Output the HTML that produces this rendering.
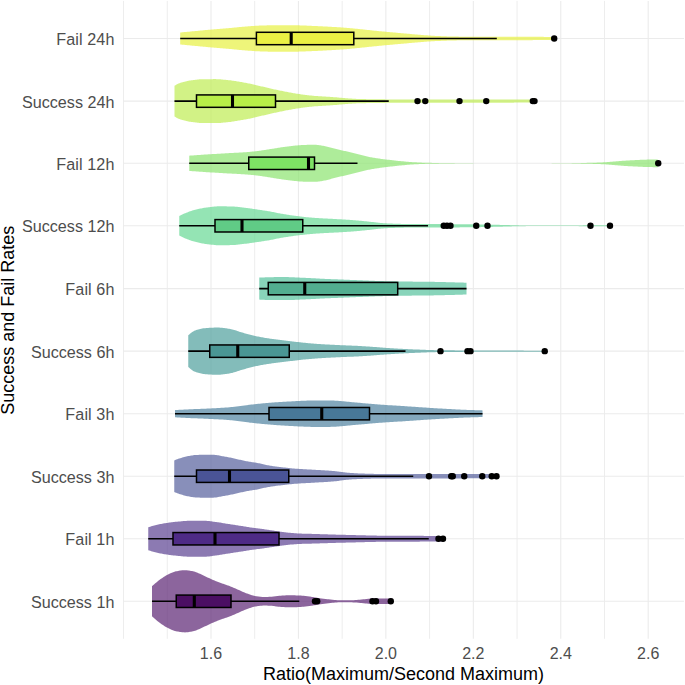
<!DOCTYPE html>
<html><head><meta charset="utf-8"><style>
html,body{margin:0;padding:0;background:#fff;width:685px;height:685px;overflow:hidden}
svg{display:block}
text{font-family:"Liberation Sans",sans-serif}
.gmin{stroke:#EDEDED;stroke-width:1}
.gmaj{stroke:#EBEBEB;stroke-width:1.1}
.wh{stroke:#000;stroke-width:1.6}
.bx{stroke:#000;stroke-width:1.5}
.md{stroke:#000;stroke-width:3.1}
.yl{font-size:16.15px;fill:#4D4D4D;text-anchor:end}
.xl{font-size:16px;fill:#4D4D4D;text-anchor:middle}
.xt{font-size:18px;fill:#000;text-anchor:middle}
.yt{font-size:18px;fill:#000;text-anchor:middle}
</style></head><body>
<svg width="685" height="685" viewBox="0 0 685 685">
<rect width="685" height="685" fill="#fff"/>
<line x1="123.55" y1="0.90" x2="123.55" y2="638.80" class="gmin"/>
<line x1="167.27" y1="0.90" x2="167.27" y2="638.80" class="gmin"/>
<line x1="254.71" y1="0.90" x2="254.71" y2="638.80" class="gmin"/>
<line x1="342.15" y1="0.90" x2="342.15" y2="638.80" class="gmin"/>
<line x1="429.60" y1="0.90" x2="429.60" y2="638.80" class="gmin"/>
<line x1="517.04" y1="0.90" x2="517.04" y2="638.80" class="gmin"/>
<line x1="604.48" y1="0.90" x2="604.48" y2="638.80" class="gmin"/>
<line x1="210.99" y1="0.90" x2="210.99" y2="638.80" class="gmaj"/>
<line x1="298.43" y1="0.90" x2="298.43" y2="638.80" class="gmaj"/>
<line x1="385.87" y1="0.90" x2="385.87" y2="638.80" class="gmaj"/>
<line x1="473.32" y1="0.90" x2="473.32" y2="638.80" class="gmaj"/>
<line x1="560.76" y1="0.90" x2="560.76" y2="638.80" class="gmaj"/>
<line x1="648.20" y1="0.90" x2="648.20" y2="638.80" class="gmaj"/>
<line x1="123.00" y1="38.49" x2="684.00" y2="38.49" class="gmaj"/>
<line x1="123.00" y1="101.12" x2="684.00" y2="101.12" class="gmaj"/>
<line x1="123.00" y1="163.30" x2="684.00" y2="163.30" class="gmaj"/>
<line x1="123.00" y1="225.79" x2="684.00" y2="225.79" class="gmaj"/>
<line x1="123.00" y1="288.62" x2="684.00" y2="288.62" class="gmaj"/>
<line x1="123.00" y1="351.15" x2="684.00" y2="351.15" class="gmaj"/>
<line x1="123.00" y1="413.68" x2="684.00" y2="413.68" class="gmaj"/>
<line x1="123.00" y1="476.21" x2="684.00" y2="476.21" class="gmaj"/>
<line x1="123.00" y1="538.75" x2="684.00" y2="538.75" class="gmaj"/>
<line x1="123.00" y1="601.28" x2="684.00" y2="601.28" class="gmaj"/>
<path d="M180.20,32.49 L181.20,32.40 L182.20,32.30 L183.20,32.21 L184.20,32.11 L185.20,32.02 L186.20,31.92 L187.20,31.83 L188.20,31.73 L189.20,31.64 L190.20,31.54 L191.20,31.45 L192.20,31.35 L193.20,31.26 L194.20,31.17 L195.20,31.07 L196.20,30.98 L197.20,30.88 L198.20,30.79 L199.20,30.69 L200.20,30.60 L201.20,30.50 L202.20,30.41 L203.20,30.31 L204.20,30.22 L205.20,30.12 L206.20,30.03 L207.20,29.94 L208.20,29.84 L209.20,29.75 L210.20,29.66 L211.20,29.57 L212.20,29.48 L213.20,29.40 L214.20,29.31 L215.20,29.23 L216.20,29.14 L217.20,29.06 L218.20,28.98 L219.20,28.90 L220.20,28.81 L221.20,28.73 L222.20,28.65 L223.20,28.57 L224.20,28.49 L225.20,28.40 L226.20,28.32 L227.20,28.23 L228.20,28.15 L229.20,28.06 L230.20,27.97 L231.20,27.88 L232.20,27.79 L233.20,27.69 L234.20,27.59 L235.20,27.49 L236.20,27.39 L237.20,27.29 L238.20,27.20 L239.20,27.10 L240.20,27.00 L241.20,26.91 L242.20,26.82 L243.20,26.73 L244.20,26.65 L245.20,26.57 L246.20,26.50 L247.20,26.42 L248.20,26.34 L249.20,26.27 L250.20,26.19 L251.20,26.12 L252.20,26.04 L253.20,25.97 L254.20,25.90 L255.20,25.84 L256.20,25.77 L257.20,25.72 L258.20,25.66 L259.20,25.61 L260.20,25.57 L261.20,25.53 L262.20,25.50 L263.20,25.47 L264.20,25.44 L265.20,25.42 L266.20,25.39 L267.20,25.37 L268.20,25.35 L269.20,25.32 L270.20,25.30 L271.20,25.28 L272.20,25.26 L273.20,25.25 L274.20,25.23 L275.20,25.22 L276.20,25.21 L277.20,25.20 L278.20,25.19 L279.20,25.19 L280.20,25.19 L281.20,25.19 L282.20,25.19 L283.20,25.20 L284.20,25.20 L285.20,25.20 L286.20,25.21 L287.20,25.22 L288.20,25.22 L289.20,25.23 L290.20,25.24 L291.20,25.25 L292.20,25.26 L293.20,25.27 L294.20,25.28 L295.20,25.29 L296.20,25.31 L297.20,25.32 L298.20,25.35 L299.20,25.37 L300.20,25.40 L301.20,25.43 L302.20,25.47 L303.20,25.50 L304.20,25.54 L305.20,25.58 L306.20,25.62 L307.20,25.67 L308.20,25.71 L309.20,25.75 L310.20,25.79 L311.20,25.84 L312.20,25.88 L313.20,25.92 L314.20,25.96 L315.20,26.00 L316.20,26.05 L317.20,26.10 L318.20,26.14 L319.20,26.19 L320.20,26.24 L321.20,26.29 L322.20,26.34 L323.20,26.40 L324.20,26.45 L325.20,26.50 L326.20,26.55 L327.20,26.61 L328.20,26.66 L329.20,26.71 L330.20,26.77 L331.20,26.82 L332.20,26.88 L333.20,26.94 L334.20,27.00 L335.20,27.05 L336.20,27.12 L337.20,27.18 L338.20,27.24 L339.20,27.31 L340.20,27.37 L341.20,27.44 L342.20,27.51 L343.20,27.58 L344.20,27.66 L345.20,27.74 L346.20,27.82 L347.20,27.91 L348.20,28.00 L349.20,28.09 L350.20,28.18 L351.20,28.27 L352.20,28.37 L353.20,28.47 L354.20,28.57 L355.20,28.66 L356.20,28.76 L357.20,28.86 L358.20,28.96 L359.20,29.06 L360.20,29.16 L361.20,29.26 L362.20,29.36 L363.20,29.46 L364.20,29.57 L365.20,29.68 L366.20,29.78 L367.20,29.89 L368.20,30.00 L369.20,30.11 L370.20,30.22 L371.20,30.33 L372.20,30.43 L373.20,30.54 L374.20,30.64 L375.20,30.75 L376.20,30.85 L377.20,30.95 L378.20,31.05 L379.20,31.15 L380.20,31.24 L381.20,31.34 L382.20,31.43 L383.20,31.52 L384.20,31.61 L385.20,31.71 L386.20,31.80 L387.20,31.89 L388.20,31.98 L389.20,32.07 L390.20,32.16 L391.20,32.25 L392.20,32.34 L393.20,32.43 L394.20,32.52 L395.20,32.61 L396.20,32.70 L397.20,32.79 L398.20,32.88 L399.20,32.97 L400.20,33.06 L401.20,33.15 L402.20,33.24 L403.20,33.33 L404.20,33.42 L405.20,33.51 L406.20,33.60 L407.20,33.69 L408.20,33.78 L409.20,33.87 L410.20,33.96 L411.20,34.06 L412.20,34.15 L413.20,34.23 L414.20,34.32 L415.20,34.41 L416.20,34.49 L417.20,34.57 L418.20,34.66 L419.20,34.74 L420.20,34.82 L421.20,34.90 L422.20,34.97 L423.20,35.05 L424.20,35.13 L425.20,35.21 L426.20,35.28 L427.20,35.36 L428.20,35.44 L429.20,35.51 L430.20,35.59 L431.20,35.65 L432.20,35.72 L433.20,35.77 L434.20,35.83 L435.20,35.88 L436.20,35.93 L437.20,35.97 L438.20,36.02 L439.20,36.06 L440.20,36.10 L441.20,36.14 L442.20,36.18 L443.20,36.22 L444.20,36.26 L445.20,36.30 L446.20,36.34 L447.20,36.38 L448.20,36.42 L449.20,36.45 L450.20,36.49 L451.20,36.52 L452.20,36.54 L453.20,36.56 L454.20,36.58 L455.20,36.59 L456.20,36.60 L457.20,36.61 L458.20,36.62 L459.20,36.63 L460.20,36.64 L461.20,36.65 L462.20,36.65 L463.20,36.66 L464.20,36.67 L465.20,36.67 L466.20,36.68 L467.20,36.69 L468.20,36.69 L469.20,36.70 L470.20,36.70 L471.20,36.71 L472.20,36.71 L473.20,36.71 L474.20,36.72 L475.20,36.72 L476.20,36.73 L477.20,36.73 L478.20,36.73 L479.20,36.74 L480.20,36.74 L481.20,36.74 L482.20,36.75 L483.20,36.75 L484.20,36.75 L485.20,36.76 L486.20,36.76 L487.20,36.76 L488.20,36.76 L489.20,36.77 L490.20,36.77 L491.20,36.77 L492.20,36.77 L493.20,36.78 L494.20,36.78 L495.20,36.78 L496.20,36.78 L497.20,36.78 L498.20,36.79 L499.20,36.79 L500.20,36.79 L501.20,36.79 L502.20,36.79 L503.20,36.80 L504.20,36.80 L505.20,36.80 L506.20,36.80 L507.20,36.81 L508.20,36.81 L509.20,36.81 L510.20,36.81 L511.20,36.81 L512.20,36.82 L513.20,36.82 L514.20,36.82 L515.20,36.82 L516.20,36.82 L517.20,36.83 L518.20,36.83 L519.20,36.83 L520.20,36.83 L521.20,36.83 L522.20,36.84 L523.20,36.84 L524.20,36.84 L525.20,36.84 L526.20,36.84 L527.20,36.85 L528.20,36.85 L529.20,36.85 L530.20,36.85 L531.20,36.85 L532.20,36.85 L533.20,36.86 L534.20,36.86 L535.20,36.86 L536.20,36.86 L537.20,36.86 L538.20,36.87 L539.20,36.87 L540.20,36.87 L541.20,36.87 L542.20,36.87 L543.20,36.87 L544.20,36.88 L545.20,36.88 L546.20,36.88 L547.20,36.88 L548.20,36.88 L549.20,36.88 L550.20,36.88 L551.20,36.89 L552.20,36.89 L553.20,36.89 L554.20,36.89 L554.20,36.89 L554.20,40.09 L554.20,40.09 L553.20,40.09 L552.20,40.09 L551.20,40.09 L550.20,40.10 L549.20,40.10 L548.20,40.10 L547.20,40.10 L546.20,40.10 L545.20,40.10 L544.20,40.10 L543.20,40.11 L542.20,40.11 L541.20,40.11 L540.20,40.11 L539.20,40.11 L538.20,40.11 L537.20,40.12 L536.20,40.12 L535.20,40.12 L534.20,40.12 L533.20,40.12 L532.20,40.13 L531.20,40.13 L530.20,40.13 L529.20,40.13 L528.20,40.13 L527.20,40.13 L526.20,40.14 L525.20,40.14 L524.20,40.14 L523.20,40.14 L522.20,40.14 L521.20,40.15 L520.20,40.15 L519.20,40.15 L518.20,40.15 L517.20,40.15 L516.20,40.16 L515.20,40.16 L514.20,40.16 L513.20,40.16 L512.20,40.16 L511.20,40.17 L510.20,40.17 L509.20,40.17 L508.20,40.17 L507.20,40.17 L506.20,40.18 L505.20,40.18 L504.20,40.18 L503.20,40.18 L502.20,40.19 L501.20,40.19 L500.20,40.19 L499.20,40.19 L498.20,40.19 L497.20,40.20 L496.20,40.20 L495.20,40.20 L494.20,40.20 L493.20,40.20 L492.20,40.21 L491.20,40.21 L490.20,40.21 L489.20,40.21 L488.20,40.22 L487.20,40.22 L486.20,40.22 L485.20,40.22 L484.20,40.23 L483.20,40.23 L482.20,40.23 L481.20,40.24 L480.20,40.24 L479.20,40.24 L478.20,40.25 L477.20,40.25 L476.20,40.25 L475.20,40.26 L474.20,40.26 L473.20,40.27 L472.20,40.27 L471.20,40.27 L470.20,40.28 L469.20,40.28 L468.20,40.29 L467.20,40.29 L466.20,40.30 L465.20,40.31 L464.20,40.31 L463.20,40.32 L462.20,40.33 L461.20,40.33 L460.20,40.34 L459.20,40.35 L458.20,40.36 L457.20,40.37 L456.20,40.38 L455.20,40.39 L454.20,40.40 L453.20,40.42 L452.20,40.44 L451.20,40.46 L450.20,40.49 L449.20,40.53 L448.20,40.56 L447.20,40.60 L446.20,40.64 L445.20,40.68 L444.20,40.72 L443.20,40.76 L442.20,40.80 L441.20,40.84 L440.20,40.88 L439.20,40.92 L438.20,40.96 L437.20,41.01 L436.20,41.05 L435.20,41.10 L434.20,41.15 L433.20,41.21 L432.20,41.26 L431.20,41.33 L430.20,41.39 L429.20,41.47 L428.20,41.54 L427.20,41.62 L426.20,41.70 L425.20,41.77 L424.20,41.85 L423.20,41.93 L422.20,42.01 L421.20,42.08 L420.20,42.16 L419.20,42.24 L418.20,42.32 L417.20,42.41 L416.20,42.49 L415.20,42.57 L414.20,42.66 L413.20,42.75 L412.20,42.83 L411.20,42.92 L410.20,43.02 L409.20,43.11 L408.20,43.20 L407.20,43.29 L406.20,43.38 L405.20,43.47 L404.20,43.56 L403.20,43.65 L402.20,43.74 L401.20,43.83 L400.20,43.92 L399.20,44.01 L398.20,44.10 L397.20,44.19 L396.20,44.28 L395.20,44.37 L394.20,44.46 L393.20,44.55 L392.20,44.64 L391.20,44.73 L390.20,44.82 L389.20,44.91 L388.20,45.00 L387.20,45.09 L386.20,45.18 L385.20,45.27 L384.20,45.37 L383.20,45.46 L382.20,45.55 L381.20,45.64 L380.20,45.74 L379.20,45.83 L378.20,45.93 L377.20,46.03 L376.20,46.13 L375.20,46.23 L374.20,46.34 L373.20,46.44 L372.20,46.55 L371.20,46.65 L370.20,46.76 L369.20,46.87 L368.20,46.98 L367.20,47.09 L366.20,47.20 L365.20,47.30 L364.20,47.41 L363.20,47.52 L362.20,47.62 L361.20,47.72 L360.20,47.82 L359.20,47.92 L358.20,48.02 L357.20,48.12 L356.20,48.22 L355.20,48.32 L354.20,48.41 L353.20,48.51 L352.20,48.61 L351.20,48.71 L350.20,48.80 L349.20,48.89 L348.20,48.98 L347.20,49.07 L346.20,49.16 L345.20,49.24 L344.20,49.32 L343.20,49.40 L342.20,49.47 L341.20,49.54 L340.20,49.61 L339.20,49.67 L338.20,49.74 L337.20,49.80 L336.20,49.86 L335.20,49.93 L334.20,49.98 L333.20,50.04 L332.20,50.10 L331.20,50.16 L330.20,50.21 L329.20,50.27 L328.20,50.32 L327.20,50.37 L326.20,50.43 L325.20,50.48 L324.20,50.53 L323.20,50.58 L322.20,50.64 L321.20,50.69 L320.20,50.74 L319.20,50.79 L318.20,50.84 L317.20,50.88 L316.20,50.93 L315.20,50.98 L314.20,51.02 L313.20,51.06 L312.20,51.10 L311.20,51.14 L310.20,51.19 L309.20,51.23 L308.20,51.27 L307.20,51.31 L306.20,51.36 L305.20,51.40 L304.20,51.44 L303.20,51.48 L302.20,51.51 L301.20,51.55 L300.20,51.58 L299.20,51.61 L298.20,51.63 L297.20,51.66 L296.20,51.67 L295.20,51.69 L294.20,51.70 L293.20,51.71 L292.20,51.72 L291.20,51.73 L290.20,51.74 L289.20,51.75 L288.20,51.76 L287.20,51.76 L286.20,51.77 L285.20,51.78 L284.20,51.78 L283.20,51.78 L282.20,51.79 L281.20,51.79 L280.20,51.79 L279.20,51.79 L278.20,51.79 L277.20,51.78 L276.20,51.77 L275.20,51.76 L274.20,51.75 L273.20,51.73 L272.20,51.72 L271.20,51.70 L270.20,51.68 L269.20,51.66 L268.20,51.63 L267.20,51.61 L266.20,51.59 L265.20,51.56 L264.20,51.54 L263.20,51.51 L262.20,51.48 L261.20,51.45 L260.20,51.41 L259.20,51.37 L258.20,51.32 L257.20,51.26 L256.20,51.21 L255.20,51.14 L254.20,51.08 L253.20,51.01 L252.20,50.94 L251.20,50.86 L250.20,50.79 L249.20,50.71 L248.20,50.64 L247.20,50.56 L246.20,50.48 L245.20,50.41 L244.20,50.33 L243.20,50.25 L242.20,50.16 L241.20,50.07 L240.20,49.98 L239.20,49.88 L238.20,49.78 L237.20,49.69 L236.20,49.59 L235.20,49.49 L234.20,49.39 L233.20,49.29 L232.20,49.19 L231.20,49.10 L230.20,49.01 L229.20,48.92 L228.20,48.83 L227.20,48.75 L226.20,48.66 L225.20,48.58 L224.20,48.49 L223.20,48.41 L222.20,48.33 L221.20,48.25 L220.20,48.17 L219.20,48.08 L218.20,48.00 L217.20,47.92 L216.20,47.84 L215.20,47.75 L214.20,47.67 L213.20,47.58 L212.20,47.50 L211.20,47.41 L210.20,47.32 L209.20,47.23 L208.20,47.14 L207.20,47.04 L206.20,46.95 L205.20,46.86 L204.20,46.76 L203.20,46.67 L202.20,46.57 L201.20,46.48 L200.20,46.38 L199.20,46.29 L198.20,46.19 L197.20,46.10 L196.20,46.00 L195.20,45.91 L194.20,45.81 L193.20,45.72 L192.20,45.63 L191.20,45.53 L190.20,45.44 L189.20,45.34 L188.20,45.25 L187.20,45.15 L186.20,45.06 L185.20,44.96 L184.20,44.87 L183.20,44.77 L182.20,44.68 L181.20,44.58 L180.20,44.49 Z" fill="#E7F141" fill-opacity="0.70"/>
<path d="M174.50,85.72 L175.50,85.15 L176.50,84.60 L177.50,84.09 L178.50,83.61 L179.50,83.20 L180.50,82.85 L181.50,82.53 L182.50,82.22 L183.50,81.93 L184.50,81.66 L185.50,81.41 L186.50,81.17 L187.50,80.96 L188.50,80.77 L189.50,80.60 L190.50,80.45 L191.50,80.30 L192.50,80.15 L193.50,80.01 L194.50,79.88 L195.50,79.75 L196.50,79.63 L197.50,79.53 L198.50,79.43 L199.50,79.35 L200.50,79.29 L201.50,79.25 L202.50,79.22 L203.50,79.21 L204.50,79.19 L205.50,79.18 L206.50,79.17 L207.50,79.16 L208.50,79.15 L209.50,79.14 L210.50,79.14 L211.50,79.13 L212.50,79.13 L213.50,79.12 L214.50,79.12 L215.50,79.12 L216.50,79.14 L217.50,79.18 L218.50,79.23 L219.50,79.29 L220.50,79.36 L221.50,79.44 L222.50,79.53 L223.50,79.63 L224.50,79.72 L225.50,79.82 L226.50,79.92 L227.50,80.02 L228.50,80.13 L229.50,80.24 L230.50,80.37 L231.50,80.50 L232.50,80.65 L233.50,80.80 L234.50,80.96 L235.50,81.12 L236.50,81.29 L237.50,81.45 L238.50,81.62 L239.50,81.79 L240.50,81.96 L241.50,82.12 L242.50,82.30 L243.50,82.47 L244.50,82.65 L245.50,82.84 L246.50,83.02 L247.50,83.21 L248.50,83.41 L249.50,83.61 L250.50,83.81 L251.50,84.01 L252.50,84.22 L253.50,84.44 L254.50,84.66 L255.50,84.90 L256.50,85.14 L257.50,85.38 L258.50,85.63 L259.50,85.88 L260.50,86.13 L261.50,86.38 L262.50,86.62 L263.50,86.87 L264.50,87.11 L265.50,87.34 L266.50,87.57 L267.50,87.80 L268.50,88.03 L269.50,88.26 L270.50,88.48 L271.50,88.71 L272.50,88.93 L273.50,89.16 L274.50,89.38 L275.50,89.59 L276.50,89.81 L277.50,90.02 L278.50,90.23 L279.50,90.44 L280.50,90.65 L281.50,90.86 L282.50,91.07 L283.50,91.27 L284.50,91.48 L285.50,91.67 L286.50,91.87 L287.50,92.06 L288.50,92.25 L289.50,92.43 L290.50,92.61 L291.50,92.79 L292.50,92.96 L293.50,93.13 L294.50,93.30 L295.50,93.47 L296.50,93.63 L297.50,93.79 L298.50,93.95 L299.50,94.10 L300.50,94.25 L301.50,94.39 L302.50,94.52 L303.50,94.65 L304.50,94.78 L305.50,94.91 L306.50,95.03 L307.50,95.15 L308.50,95.27 L309.50,95.39 L310.50,95.49 L311.50,95.60 L312.50,95.70 L313.50,95.79 L314.50,95.88 L315.50,95.96 L316.50,96.04 L317.50,96.11 L318.50,96.18 L319.50,96.24 L320.50,96.30 L321.50,96.36 L322.50,96.42 L323.50,96.48 L324.50,96.53 L325.50,96.59 L326.50,96.66 L327.50,96.72 L328.50,96.79 L329.50,96.86 L330.50,96.92 L331.50,96.99 L332.50,97.06 L333.50,97.13 L334.50,97.21 L335.50,97.28 L336.50,97.36 L337.50,97.45 L338.50,97.54 L339.50,97.63 L340.50,97.73 L341.50,97.82 L342.50,97.91 L343.50,98.00 L344.50,98.08 L345.50,98.16 L346.50,98.24 L347.50,98.31 L348.50,98.39 L349.50,98.46 L350.50,98.54 L351.50,98.61 L352.50,98.67 L353.50,98.74 L354.50,98.79 L355.50,98.84 L356.50,98.88 L357.50,98.92 L358.50,98.95 L359.50,98.98 L360.50,99.00 L361.50,99.03 L362.50,99.05 L363.50,99.07 L364.50,99.09 L365.50,99.11 L366.50,99.13 L367.50,99.15 L368.50,99.17 L369.50,99.19 L370.50,99.20 L371.50,99.22 L372.50,99.23 L373.50,99.25 L374.50,99.26 L375.50,99.27 L376.50,99.28 L377.50,99.29 L378.50,99.31 L379.50,99.32 L380.50,99.33 L381.50,99.34 L382.50,99.35 L383.50,99.36 L384.50,99.37 L385.50,99.38 L386.50,99.39 L387.50,99.40 L388.50,99.40 L389.50,99.41 L390.50,99.42 L391.50,99.43 L392.50,99.44 L393.50,99.44 L394.50,99.45 L395.50,99.45 L396.50,99.46 L397.50,99.46 L398.50,99.47 L399.50,99.47 L400.50,99.47 L401.50,99.48 L402.50,99.48 L403.50,99.48 L404.50,99.48 L405.50,99.48 L406.50,99.49 L407.50,99.49 L408.50,99.49 L409.50,99.49 L410.50,99.50 L411.50,99.50 L412.50,99.50 L413.50,99.50 L414.50,99.50 L415.50,99.51 L416.50,99.51 L417.50,99.51 L418.50,99.51 L419.50,99.51 L420.50,99.52 L421.50,99.52 L422.50,99.52 L423.50,99.52 L424.50,99.52 L425.50,99.53 L426.50,99.53 L427.50,99.53 L428.50,99.53 L429.50,99.53 L430.50,99.54 L431.50,99.54 L432.50,99.54 L433.50,99.54 L434.50,99.54 L435.50,99.54 L436.50,99.55 L437.50,99.55 L438.50,99.55 L439.50,99.55 L440.50,99.55 L441.50,99.55 L442.50,99.56 L443.50,99.56 L444.50,99.56 L445.50,99.56 L446.50,99.56 L447.50,99.56 L448.50,99.56 L449.50,99.57 L450.50,99.57 L451.50,99.57 L452.50,99.57 L453.50,99.57 L454.50,99.57 L455.50,99.57 L456.50,99.57 L457.50,99.58 L458.50,99.58 L459.50,99.58 L460.50,99.58 L461.50,99.58 L462.50,99.58 L463.50,99.58 L464.50,99.58 L465.50,99.59 L466.50,99.59 L467.50,99.59 L468.50,99.59 L469.50,99.59 L470.50,99.59 L471.50,99.59 L472.50,99.59 L473.50,99.59 L474.50,99.59 L475.50,99.60 L476.50,99.60 L477.50,99.60 L478.50,99.60 L479.50,99.60 L480.50,99.60 L481.50,99.60 L482.50,99.60 L483.50,99.60 L484.50,99.60 L485.50,99.60 L486.50,99.60 L487.50,99.61 L488.50,99.61 L489.50,99.61 L490.50,99.61 L491.50,99.61 L492.50,99.61 L493.50,99.61 L494.50,99.61 L495.50,99.61 L496.50,99.61 L497.50,99.61 L498.50,99.61 L499.50,99.61 L500.50,99.61 L501.50,99.61 L502.50,99.61 L503.50,99.62 L504.50,99.62 L505.50,99.62 L506.50,99.62 L507.50,99.62 L508.50,99.62 L509.50,99.62 L510.50,99.62 L511.50,99.62 L512.50,99.62 L513.50,99.62 L514.50,99.62 L515.50,99.62 L516.50,99.62 L517.50,99.62 L518.50,99.62 L519.50,99.62 L520.50,99.62 L521.50,99.62 L522.50,99.62 L523.50,99.62 L524.50,99.62 L525.50,99.62 L526.50,99.62 L527.50,99.62 L528.50,99.62 L529.50,99.62 L530.50,99.62 L531.50,99.62 L532.50,99.62 L533.50,99.62 L533.50,102.62 L532.50,102.62 L531.50,102.62 L530.50,102.62 L529.50,102.62 L528.50,102.62 L527.50,102.62 L526.50,102.62 L525.50,102.62 L524.50,102.62 L523.50,102.62 L522.50,102.62 L521.50,102.62 L520.50,102.62 L519.50,102.62 L518.50,102.62 L517.50,102.62 L516.50,102.62 L515.50,102.62 L514.50,102.62 L513.50,102.63 L512.50,102.63 L511.50,102.63 L510.50,102.63 L509.50,102.63 L508.50,102.63 L507.50,102.63 L506.50,102.63 L505.50,102.63 L504.50,102.63 L503.50,102.63 L502.50,102.63 L501.50,102.63 L500.50,102.63 L499.50,102.63 L498.50,102.63 L497.50,102.63 L496.50,102.63 L495.50,102.63 L494.50,102.63 L493.50,102.63 L492.50,102.63 L491.50,102.64 L490.50,102.64 L489.50,102.64 L488.50,102.64 L487.50,102.64 L486.50,102.64 L485.50,102.64 L484.50,102.64 L483.50,102.64 L482.50,102.64 L481.50,102.64 L480.50,102.64 L479.50,102.64 L478.50,102.65 L477.50,102.65 L476.50,102.65 L475.50,102.65 L474.50,102.65 L473.50,102.65 L472.50,102.65 L471.50,102.65 L470.50,102.65 L469.50,102.65 L468.50,102.66 L467.50,102.66 L466.50,102.66 L465.50,102.66 L464.50,102.66 L463.50,102.66 L462.50,102.66 L461.50,102.66 L460.50,102.66 L459.50,102.67 L458.50,102.67 L457.50,102.67 L456.50,102.67 L455.50,102.67 L454.50,102.67 L453.50,102.67 L452.50,102.67 L451.50,102.68 L450.50,102.68 L449.50,102.68 L448.50,102.68 L447.50,102.68 L446.50,102.68 L445.50,102.68 L444.50,102.69 L443.50,102.69 L442.50,102.69 L441.50,102.69 L440.50,102.69 L439.50,102.69 L438.50,102.70 L437.50,102.70 L436.50,102.70 L435.50,102.70 L434.50,102.70 L433.50,102.70 L432.50,102.71 L431.50,102.71 L430.50,102.71 L429.50,102.71 L428.50,102.71 L427.50,102.71 L426.50,102.72 L425.50,102.72 L424.50,102.72 L423.50,102.72 L422.50,102.72 L421.50,102.73 L420.50,102.73 L419.50,102.73 L418.50,102.73 L417.50,102.73 L416.50,102.74 L415.50,102.74 L414.50,102.74 L413.50,102.74 L412.50,102.74 L411.50,102.75 L410.50,102.75 L409.50,102.75 L408.50,102.75 L407.50,102.75 L406.50,102.76 L405.50,102.76 L404.50,102.76 L403.50,102.76 L402.50,102.77 L401.50,102.77 L400.50,102.77 L399.50,102.77 L398.50,102.78 L397.50,102.78 L396.50,102.78 L395.50,102.79 L394.50,102.80 L393.50,102.80 L392.50,102.81 L391.50,102.82 L390.50,102.82 L389.50,102.83 L388.50,102.84 L387.50,102.85 L386.50,102.86 L385.50,102.87 L384.50,102.88 L383.50,102.89 L382.50,102.90 L381.50,102.91 L380.50,102.92 L379.50,102.93 L378.50,102.94 L377.50,102.95 L376.50,102.96 L375.50,102.97 L374.50,102.99 L373.50,103.00 L372.50,103.01 L371.50,103.03 L370.50,103.04 L369.50,103.06 L368.50,103.07 L367.50,103.09 L366.50,103.11 L365.50,103.13 L364.50,103.15 L363.50,103.17 L362.50,103.19 L361.50,103.22 L360.50,103.24 L359.50,103.27 L358.50,103.30 L357.50,103.32 L356.50,103.36 L355.50,103.40 L354.50,103.45 L353.50,103.51 L352.50,103.57 L351.50,103.64 L350.50,103.71 L349.50,103.78 L348.50,103.86 L347.50,103.93 L346.50,104.01 L345.50,104.08 L344.50,104.16 L343.50,104.24 L342.50,104.33 L341.50,104.42 L340.50,104.52 L339.50,104.61 L338.50,104.71 L337.50,104.80 L336.50,104.88 L335.50,104.96 L334.50,105.04 L333.50,105.11 L332.50,105.18 L331.50,105.25 L330.50,105.32 L329.50,105.39 L328.50,105.45 L327.50,105.52 L326.50,105.59 L325.50,105.65 L324.50,105.71 L323.50,105.77 L322.50,105.83 L321.50,105.89 L320.50,105.94 L319.50,106.01 L318.50,106.07 L317.50,106.14 L316.50,106.21 L315.50,106.28 L314.50,106.36 L313.50,106.45 L312.50,106.55 L311.50,106.64 L310.50,106.75 L309.50,106.86 L308.50,106.97 L307.50,107.09 L306.50,107.21 L305.50,107.34 L304.50,107.46 L303.50,107.59 L302.50,107.72 L301.50,107.86 L300.50,108.00 L299.50,108.14 L298.50,108.29 L297.50,108.45 L296.50,108.61 L295.50,108.77 L294.50,108.94 L293.50,109.11 L292.50,109.28 L291.50,109.46 L290.50,109.63 L289.50,109.81 L288.50,109.99 L287.50,110.18 L286.50,110.37 L285.50,110.57 L284.50,110.77 L283.50,110.97 L282.50,111.17 L281.50,111.38 L280.50,111.59 L279.50,111.80 L278.50,112.01 L277.50,112.22 L276.50,112.43 L275.50,112.65 L274.50,112.87 L273.50,113.09 L272.50,113.31 L271.50,113.53 L270.50,113.76 L269.50,113.99 L268.50,114.22 L267.50,114.44 L266.50,114.68 L265.50,114.91 L264.50,115.14 L263.50,115.38 L262.50,115.62 L261.50,115.87 L260.50,116.12 L259.50,116.37 L258.50,116.62 L257.50,116.86 L256.50,117.11 L255.50,117.35 L254.50,117.58 L253.50,117.81 L252.50,118.02 L251.50,118.23 L250.50,118.44 L249.50,118.64 L248.50,118.84 L247.50,119.03 L246.50,119.22 L245.50,119.41 L244.50,119.59 L243.50,119.77 L242.50,119.95 L241.50,120.12 L240.50,120.29 L239.50,120.46 L238.50,120.62 L237.50,120.79 L236.50,120.96 L235.50,121.12 L234.50,121.29 L233.50,121.44 L232.50,121.60 L231.50,121.74 L230.50,121.88 L229.50,122.00 L228.50,122.12 L227.50,122.22 L226.50,122.32 L225.50,122.42 L224.50,122.52 L223.50,122.62 L222.50,122.71 L221.50,122.80 L220.50,122.88 L219.50,122.96 L218.50,123.02 L217.50,123.07 L216.50,123.10 L215.50,123.12 L214.50,123.12 L213.50,123.12 L212.50,123.12 L211.50,123.11 L210.50,123.11 L209.50,123.10 L208.50,123.09 L207.50,123.08 L206.50,123.07 L205.50,123.06 L204.50,123.05 L203.50,123.04 L202.50,123.02 L201.50,123.00 L200.50,122.95 L199.50,122.89 L198.50,122.81 L197.50,122.72 L196.50,122.61 L195.50,122.49 L194.50,122.37 L193.50,122.23 L192.50,122.09 L191.50,121.94 L190.50,121.80 L189.50,121.64 L188.50,121.47 L187.50,121.28 L186.50,121.07 L185.50,120.84 L184.50,120.58 L183.50,120.31 L182.50,120.02 L181.50,119.72 L180.50,119.39 L179.50,119.04 L178.50,118.63 L177.50,118.16 L176.50,117.64 L175.50,117.09 L174.50,116.52 Z" fill="#BFEC52" fill-opacity="0.70"/>
<path d="M189.25,155.70 L190.25,155.62 L191.25,155.55 L192.25,155.47 L193.25,155.39 L194.25,155.31 L195.25,155.24 L196.25,155.16 L197.25,155.09 L198.25,155.02 L199.25,154.95 L200.25,154.88 L201.25,154.81 L202.25,154.74 L203.25,154.67 L204.25,154.60 L205.25,154.54 L206.25,154.47 L207.25,154.41 L208.25,154.35 L209.25,154.29 L210.25,154.23 L211.25,154.17 L212.25,154.11 L213.25,154.05 L214.25,154.00 L215.25,153.94 L216.25,153.88 L217.25,153.82 L218.25,153.76 L219.25,153.70 L220.25,153.64 L221.25,153.58 L222.25,153.51 L223.25,153.45 L224.25,153.39 L225.25,153.33 L226.25,153.27 L227.25,153.21 L228.25,153.15 L229.25,153.10 L230.25,153.04 L231.25,152.99 L232.25,152.94 L233.25,152.89 L234.25,152.84 L235.25,152.79 L236.25,152.74 L237.25,152.70 L238.25,152.65 L239.25,152.59 L240.25,152.54 L241.25,152.48 L242.25,152.42 L243.25,152.35 L244.25,152.28 L245.25,152.21 L246.25,152.13 L247.25,152.05 L248.25,151.96 L249.25,151.88 L250.25,151.78 L251.25,151.69 L252.25,151.59 L253.25,151.49 L254.25,151.38 L255.25,151.28 L256.25,151.16 L257.25,151.04 L258.25,150.91 L259.25,150.78 L260.25,150.64 L261.25,150.49 L262.25,150.35 L263.25,150.20 L264.25,150.05 L265.25,149.89 L266.25,149.74 L267.25,149.59 L268.25,149.44 L269.25,149.28 L270.25,149.12 L271.25,148.96 L272.25,148.80 L273.25,148.63 L274.25,148.46 L275.25,148.30 L276.25,148.13 L277.25,147.97 L278.25,147.82 L279.25,147.66 L280.25,147.52 L281.25,147.37 L282.25,147.23 L283.25,147.08 L284.25,146.94 L285.25,146.80 L286.25,146.66 L287.25,146.52 L288.25,146.39 L289.25,146.27 L290.25,146.15 L291.25,146.03 L292.25,145.93 L293.25,145.83 L294.25,145.73 L295.25,145.62 L296.25,145.52 L297.25,145.42 L298.25,145.32 L299.25,145.23 L300.25,145.15 L301.25,145.07 L302.25,145.01 L303.25,144.96 L304.25,144.92 L305.25,144.90 L306.25,144.88 L307.25,144.87 L308.25,144.85 L309.25,144.84 L310.25,144.83 L311.25,144.82 L312.25,144.81 L313.25,144.81 L314.25,144.80 L315.25,144.81 L316.25,144.84 L317.25,144.91 L318.25,145.02 L319.25,145.15 L320.25,145.31 L321.25,145.48 L322.25,145.66 L323.25,145.84 L324.25,146.01 L325.25,146.21 L326.25,146.43 L327.25,146.68 L328.25,146.94 L329.25,147.21 L330.25,147.47 L331.25,147.75 L332.25,148.03 L333.25,148.33 L334.25,148.61 L335.25,148.87 L336.25,149.11 L337.25,149.35 L338.25,149.58 L339.25,149.81 L340.25,150.03 L341.25,150.24 L342.25,150.46 L343.25,150.68 L344.25,150.90 L345.25,151.12 L346.25,151.35 L347.25,151.58 L348.25,151.82 L349.25,152.06 L350.25,152.30 L351.25,152.55 L352.25,152.79 L353.25,153.04 L354.25,153.29 L355.25,153.53 L356.25,153.78 L357.25,154.02 L358.25,154.27 L359.25,154.51 L360.25,154.76 L361.25,155.02 L362.25,155.28 L363.25,155.54 L364.25,155.79 L365.25,156.04 L366.25,156.29 L367.25,156.52 L368.25,156.74 L369.25,156.96 L370.25,157.15 L371.25,157.34 L372.25,157.51 L373.25,157.68 L374.25,157.85 L375.25,158.01 L376.25,158.16 L377.25,158.31 L378.25,158.46 L379.25,158.60 L380.25,158.74 L381.25,158.88 L382.25,159.01 L383.25,159.14 L384.25,159.27 L385.25,159.39 L386.25,159.51 L387.25,159.63 L388.25,159.75 L389.25,159.87 L390.25,159.98 L391.25,160.10 L392.25,160.21 L393.25,160.33 L394.25,160.44 L395.25,160.56 L396.25,160.67 L397.25,160.78 L398.25,160.88 L399.25,160.99 L400.25,161.09 L401.25,161.19 L402.25,161.28 L403.25,161.37 L404.25,161.47 L405.25,161.56 L406.25,161.65 L407.25,161.74 L408.25,161.82 L409.25,161.91 L410.25,161.99 L411.25,162.06 L412.25,162.13 L413.25,162.20 L414.25,162.26 L415.25,162.32 L416.25,162.37 L417.25,162.42 L418.25,162.47 L419.25,162.52 L420.25,162.56 L421.25,162.61 L422.25,162.65 L423.25,162.68 L424.25,162.72 L425.25,162.75 L426.25,162.78 L427.25,162.80 L428.25,162.82 L429.25,162.84 L430.25,162.86 L431.25,162.87 L432.25,162.89 L433.25,162.91 L434.25,162.92 L435.25,162.94 L436.25,162.95 L437.25,162.96 L438.25,162.98 L439.25,162.99 L440.25,163.00 L441.25,163.01 L442.25,163.02 L443.25,163.03 L444.25,163.04 L445.25,163.05 L446.25,163.06 L447.25,163.07 L448.25,163.08 L449.25,163.08 L450.25,163.09 L451.25,163.10 L452.25,163.11 L453.25,163.11 L454.25,163.12 L455.25,163.13 L456.25,163.13 L457.25,163.14 L458.25,163.14 L459.25,163.15 L460.25,163.16 L461.25,163.16 L462.25,163.17 L463.25,163.18 L464.25,163.18 L465.25,163.19 L466.25,163.19 L467.25,163.20 L468.25,163.20 L469.25,163.21 L470.25,163.21 L471.25,163.22 L472.25,163.23 L473.25,163.23 L474.25,163.24 L475.25,163.24 L476.25,163.24 L477.25,163.25 L478.25,163.25 L479.25,163.26 L480.25,163.26 L481.25,163.27 L482.25,163.27 L483.25,163.27 L484.25,163.28 L485.25,163.28 L486.25,163.28 L487.25,163.29 L488.25,163.29 L489.25,163.29 L490.25,163.29 L491.25,163.30 L492.25,163.30 L493.25,163.30 L494.25,163.30 L495.25,163.30 L496.25,163.30 L497.25,163.30 L498.25,163.30 L499.25,163.30 L500.25,163.30 L501.25,163.30 L502.25,163.30 L503.25,163.30 L504.25,163.30 L505.25,163.30 L506.25,163.30 L507.25,163.30 L508.25,163.30 L509.25,163.30 L510.25,163.30 L511.25,163.30 L512.25,163.30 L513.25,163.30 L514.25,163.30 L515.25,163.30 L516.25,163.30 L517.25,163.30 L518.25,163.29 L519.25,163.29 L520.25,163.29 L521.25,163.29 L522.25,163.29 L523.25,163.29 L524.25,163.29 L525.25,163.29 L526.25,163.29 L527.25,163.28 L528.25,163.28 L529.25,163.28 L530.25,163.28 L531.25,163.28 L532.25,163.28 L533.25,163.27 L534.25,163.27 L535.25,163.27 L536.25,163.27 L537.25,163.27 L538.25,163.26 L539.25,163.26 L540.25,163.26 L541.25,163.26 L542.25,163.26 L543.25,163.25 L544.25,163.25 L545.25,163.25 L546.25,163.25 L547.25,163.24 L548.25,163.24 L549.25,163.24 L550.25,163.24 L551.25,163.23 L552.25,163.23 L553.25,163.23 L554.25,163.23 L555.25,163.22 L556.25,163.22 L557.25,163.22 L558.25,163.21 L559.25,163.21 L560.25,163.21 L561.25,163.20 L562.25,163.20 L563.25,163.20 L564.25,163.19 L565.25,163.19 L566.25,163.18 L567.25,163.17 L568.25,163.16 L569.25,163.15 L570.25,163.14 L571.25,163.13 L572.25,163.12 L573.25,163.11 L574.25,163.09 L575.25,163.08 L576.25,163.07 L577.25,163.05 L578.25,163.03 L579.25,163.02 L580.25,163.00 L581.25,162.98 L582.25,162.96 L583.25,162.94 L584.25,162.92 L585.25,162.90 L586.25,162.88 L587.25,162.86 L588.25,162.83 L589.25,162.81 L590.25,162.79 L591.25,162.76 L592.25,162.74 L593.25,162.71 L594.25,162.69 L595.25,162.66 L596.25,162.63 L597.25,162.60 L598.25,162.58 L599.25,162.55 L600.25,162.51 L601.25,162.47 L602.25,162.42 L603.25,162.37 L604.25,162.31 L605.25,162.24 L606.25,162.17 L607.25,162.10 L608.25,162.02 L609.25,161.94 L610.25,161.86 L611.25,161.77 L612.25,161.69 L613.25,161.60 L614.25,161.51 L615.25,161.42 L616.25,161.33 L617.25,161.24 L618.25,161.16 L619.25,161.07 L620.25,160.99 L621.25,160.91 L622.25,160.83 L623.25,160.76 L624.25,160.69 L625.25,160.63 L626.25,160.57 L627.25,160.51 L628.25,160.46 L629.25,160.40 L630.25,160.35 L631.25,160.30 L632.25,160.24 L633.25,160.19 L634.25,160.14 L635.25,160.09 L636.25,160.04 L637.25,159.99 L638.25,159.94 L639.25,159.90 L640.25,159.85 L641.25,159.81 L642.25,159.77 L643.25,159.73 L644.25,159.69 L645.25,159.66 L646.25,159.63 L647.25,159.60 L648.25,159.57 L649.25,159.55 L650.25,159.53 L651.25,159.50 L652.25,159.48 L653.25,159.47 L654.25,159.45 L655.25,159.43 L656.25,159.42 L657.25,159.41 L657.75,159.40 L657.75,167.20 L657.25,167.20 L656.25,167.19 L655.25,167.17 L654.25,167.16 L653.25,167.14 L652.25,167.12 L651.25,167.10 L650.25,167.08 L649.25,167.06 L648.25,167.04 L647.25,167.01 L646.25,166.98 L645.25,166.95 L644.25,166.91 L643.25,166.88 L642.25,166.84 L641.25,166.80 L640.25,166.76 L639.25,166.71 L638.25,166.67 L637.25,166.62 L636.25,166.57 L635.25,166.52 L634.25,166.47 L633.25,166.42 L632.25,166.37 L631.25,166.31 L630.25,166.26 L629.25,166.20 L628.25,166.15 L627.25,166.10 L626.25,166.04 L625.25,165.98 L624.25,165.92 L623.25,165.85 L622.25,165.78 L621.25,165.70 L620.25,165.62 L619.25,165.54 L618.25,165.45 L617.25,165.36 L616.25,165.28 L615.25,165.19 L614.25,165.10 L613.25,165.01 L612.25,164.92 L611.25,164.83 L610.25,164.75 L609.25,164.67 L608.25,164.59 L607.25,164.51 L606.25,164.43 L605.25,164.36 L604.25,164.30 L603.25,164.24 L602.25,164.19 L601.25,164.14 L600.25,164.10 L599.25,164.06 L598.25,164.03 L597.25,164.00 L596.25,163.98 L595.25,163.95 L594.25,163.92 L593.25,163.90 L592.25,163.87 L591.25,163.85 L590.25,163.82 L589.25,163.80 L588.25,163.77 L587.25,163.75 L586.25,163.73 L585.25,163.71 L584.25,163.69 L583.25,163.67 L582.25,163.65 L581.25,163.63 L580.25,163.61 L579.25,163.59 L578.25,163.57 L577.25,163.56 L576.25,163.54 L575.25,163.53 L574.25,163.51 L573.25,163.50 L572.25,163.49 L571.25,163.48 L570.25,163.46 L569.25,163.45 L568.25,163.45 L567.25,163.44 L566.25,163.43 L565.25,163.42 L564.25,163.42 L563.25,163.41 L562.25,163.41 L561.25,163.40 L560.25,163.40 L559.25,163.40 L558.25,163.39 L557.25,163.39 L556.25,163.39 L555.25,163.39 L554.25,163.38 L553.25,163.38 L552.25,163.38 L551.25,163.37 L550.25,163.37 L549.25,163.37 L548.25,163.37 L547.25,163.36 L546.25,163.36 L545.25,163.36 L544.25,163.36 L543.25,163.35 L542.25,163.35 L541.25,163.35 L540.25,163.35 L539.25,163.35 L538.25,163.34 L537.25,163.34 L536.25,163.34 L535.25,163.34 L534.25,163.34 L533.25,163.33 L532.25,163.33 L531.25,163.33 L530.25,163.33 L529.25,163.33 L528.25,163.33 L527.25,163.32 L526.25,163.32 L525.25,163.32 L524.25,163.32 L523.25,163.32 L522.25,163.32 L521.25,163.32 L520.25,163.32 L519.25,163.31 L518.25,163.31 L517.25,163.31 L516.25,163.31 L515.25,163.31 L514.25,163.31 L513.25,163.31 L512.25,163.31 L511.25,163.31 L510.25,163.31 L509.25,163.31 L508.25,163.31 L507.25,163.31 L506.25,163.31 L505.25,163.30 L504.25,163.30 L503.25,163.30 L502.25,163.30 L501.25,163.30 L500.25,163.30 L499.25,163.30 L498.25,163.30 L497.25,163.30 L496.25,163.31 L495.25,163.31 L494.25,163.31 L493.25,163.31 L492.25,163.31 L491.25,163.31 L490.25,163.32 L489.25,163.32 L488.25,163.32 L487.25,163.32 L486.25,163.33 L485.25,163.33 L484.25,163.33 L483.25,163.34 L482.25,163.34 L481.25,163.34 L480.25,163.35 L479.25,163.35 L478.25,163.35 L477.25,163.36 L476.25,163.36 L475.25,163.37 L474.25,163.37 L473.25,163.38 L472.25,163.38 L471.25,163.39 L470.25,163.39 L469.25,163.40 L468.25,163.40 L467.25,163.41 L466.25,163.42 L465.25,163.42 L464.25,163.43 L463.25,163.43 L462.25,163.44 L461.25,163.44 L460.25,163.45 L459.25,163.46 L458.25,163.46 L457.25,163.47 L456.25,163.48 L455.25,163.48 L454.25,163.49 L453.25,163.50 L452.25,163.50 L451.25,163.51 L450.25,163.52 L449.25,163.52 L448.25,163.53 L447.25,163.54 L446.25,163.55 L445.25,163.56 L444.25,163.57 L443.25,163.58 L442.25,163.59 L441.25,163.60 L440.25,163.61 L439.25,163.62 L438.25,163.63 L437.25,163.64 L436.25,163.66 L435.25,163.67 L434.25,163.69 L433.25,163.70 L432.25,163.72 L431.25,163.73 L430.25,163.75 L429.25,163.77 L428.25,163.79 L427.25,163.81 L426.25,163.83 L425.25,163.86 L424.25,163.89 L423.25,163.92 L422.25,163.96 L421.25,164.00 L420.25,164.04 L419.25,164.09 L418.25,164.14 L417.25,164.19 L416.25,164.24 L415.25,164.29 L414.25,164.35 L413.25,164.41 L412.25,164.47 L411.25,164.55 L410.25,164.62 L409.25,164.70 L408.25,164.79 L407.25,164.87 L406.25,164.96 L405.25,165.05 L404.25,165.14 L403.25,165.23 L402.25,165.33 L401.25,165.42 L400.25,165.52 L399.25,165.62 L398.25,165.73 L397.25,165.83 L396.25,165.94 L395.25,166.05 L394.25,166.16 L393.25,166.28 L392.25,166.39 L391.25,166.51 L390.25,166.62 L389.25,166.74 L388.25,166.86 L387.25,166.98 L386.25,167.10 L385.25,167.22 L384.25,167.34 L383.25,167.47 L382.25,167.60 L381.25,167.73 L380.25,167.87 L379.25,168.01 L378.25,168.15 L377.25,168.30 L376.25,168.45 L375.25,168.60 L374.25,168.76 L373.25,168.92 L372.25,169.09 L371.25,169.27 L370.25,169.46 L369.25,169.65 L368.25,169.86 L367.25,170.09 L366.25,170.32 L365.25,170.57 L364.25,170.82 L363.25,171.07 L362.25,171.33 L361.25,171.59 L360.25,171.84 L359.25,172.10 L358.25,172.34 L357.25,172.58 L356.25,172.83 L355.25,173.07 L354.25,173.32 L353.25,173.57 L352.25,173.81 L351.25,174.06 L350.25,174.30 L349.25,174.55 L348.25,174.79 L347.25,175.02 L346.25,175.26 L345.25,175.49 L344.25,175.71 L343.25,175.93 L342.25,176.15 L341.25,176.36 L340.25,176.58 L339.25,176.80 L338.25,177.03 L337.25,177.26 L336.25,177.49 L335.25,177.74 L334.25,178.00 L333.25,178.28 L332.25,178.57 L331.25,178.86 L330.25,179.14 L329.25,179.40 L328.25,179.67 L327.25,179.93 L326.25,180.18 L325.25,180.40 L324.25,180.60 L323.25,180.77 L322.25,180.95 L321.25,181.13 L320.25,181.30 L319.25,181.46 L318.25,181.59 L317.25,181.70 L316.25,181.77 L315.25,181.80 L314.25,181.80 L313.25,181.80 L312.25,181.79 L311.25,181.79 L310.25,181.78 L309.25,181.77 L308.25,181.75 L307.25,181.74 L306.25,181.72 L305.25,181.71 L304.25,181.69 L303.25,181.65 L302.25,181.60 L301.25,181.53 L300.25,181.46 L299.25,181.38 L298.25,181.29 L297.25,181.19 L296.25,181.09 L295.25,180.99 L294.25,180.88 L293.25,180.78 L292.25,180.68 L291.25,180.57 L290.25,180.46 L289.25,180.34 L288.25,180.22 L287.25,180.08 L286.25,179.95 L285.25,179.81 L284.25,179.67 L283.25,179.53 L282.25,179.38 L281.25,179.24 L280.25,179.09 L279.25,178.94 L278.25,178.79 L277.25,178.63 L276.25,178.47 L275.25,178.31 L274.25,178.14 L273.25,177.98 L272.25,177.81 L271.25,177.65 L270.25,177.48 L269.25,177.32 L268.25,177.17 L267.25,177.02 L266.25,176.87 L265.25,176.71 L264.25,176.56 L263.25,176.41 L262.25,176.26 L261.25,176.11 L260.25,175.97 L259.25,175.83 L258.25,175.70 L257.25,175.57 L256.25,175.45 L255.25,175.33 L254.25,175.22 L253.25,175.12 L252.25,175.02 L251.25,174.92 L250.25,174.82 L249.25,174.73 L248.25,174.64 L247.25,174.56 L246.25,174.48 L245.25,174.40 L244.25,174.32 L243.25,174.25 L242.25,174.19 L241.25,174.13 L240.25,174.07 L239.25,174.01 L238.25,173.96 L237.25,173.91 L236.25,173.86 L235.25,173.82 L234.25,173.77 L233.25,173.72 L232.25,173.67 L231.25,173.62 L230.25,173.57 L229.25,173.51 L228.25,173.45 L227.25,173.40 L226.25,173.34 L225.25,173.28 L224.25,173.22 L223.25,173.16 L222.25,173.09 L221.25,173.03 L220.25,172.97 L219.25,172.91 L218.25,172.85 L217.25,172.79 L216.25,172.73 L215.25,172.67 L214.25,172.61 L213.25,172.55 L212.25,172.50 L211.25,172.44 L210.25,172.38 L209.25,172.32 L208.25,172.26 L207.25,172.20 L206.25,172.13 L205.25,172.07 L204.25,172.00 L203.25,171.94 L202.25,171.87 L201.25,171.80 L200.25,171.73 L199.25,171.66 L198.25,171.59 L197.25,171.52 L196.25,171.44 L195.25,171.37 L194.25,171.29 L193.25,171.22 L192.25,171.14 L191.25,171.06 L190.25,170.98 L189.25,170.90 Z" fill="#8BE46F" fill-opacity="0.70"/>
<path d="M179.25,215.99 L180.25,215.48 L181.25,214.98 L182.25,214.50 L183.25,214.04 L184.25,213.60 L185.25,213.18 L186.25,212.78 L187.25,212.38 L188.25,211.99 L189.25,211.62 L190.25,211.25 L191.25,210.90 L192.25,210.57 L193.25,210.27 L194.25,209.98 L195.25,209.72 L196.25,209.48 L197.25,209.24 L198.25,209.01 L199.25,208.79 L200.25,208.58 L201.25,208.38 L202.25,208.19 L203.25,208.01 L204.25,207.85 L205.25,207.69 L206.25,207.55 L207.25,207.42 L208.25,207.29 L209.25,207.17 L210.25,207.05 L211.25,206.93 L212.25,206.81 L213.25,206.70 L214.25,206.60 L215.25,206.51 L216.25,206.43 L217.25,206.37 L218.25,206.32 L219.25,206.29 L220.25,206.29 L221.25,206.29 L222.25,206.30 L223.25,206.31 L224.25,206.32 L225.25,206.34 L226.25,206.36 L227.25,206.38 L228.25,206.41 L229.25,206.43 L230.25,206.46 L231.25,206.50 L232.25,206.53 L233.25,206.57 L234.25,206.62 L235.25,206.69 L236.25,206.78 L237.25,206.87 L238.25,206.98 L239.25,207.09 L240.25,207.21 L241.25,207.33 L242.25,207.45 L243.25,207.58 L244.25,207.70 L245.25,207.82 L246.25,207.94 L247.25,208.06 L248.25,208.19 L249.25,208.33 L250.25,208.47 L251.25,208.61 L252.25,208.76 L253.25,208.90 L254.25,209.05 L255.25,209.20 L256.25,209.35 L257.25,209.50 L258.25,209.65 L259.25,209.79 L260.25,209.94 L261.25,210.09 L262.25,210.24 L263.25,210.39 L264.25,210.54 L265.25,210.70 L266.25,210.86 L267.25,211.02 L268.25,211.19 L269.25,211.36 L270.25,211.53 L271.25,211.72 L272.25,211.91 L273.25,212.12 L274.25,212.33 L275.25,212.54 L276.25,212.75 L277.25,212.96 L278.25,213.16 L279.25,213.35 L280.25,213.53 L281.25,213.70 L282.25,213.87 L283.25,214.04 L284.25,214.21 L285.25,214.37 L286.25,214.54 L287.25,214.69 L288.25,214.85 L289.25,215.00 L290.25,215.15 L291.25,215.30 L292.25,215.44 L293.25,215.58 L294.25,215.72 L295.25,215.85 L296.25,215.98 L297.25,216.11 L298.25,216.23 L299.25,216.35 L300.25,216.46 L301.25,216.58 L302.25,216.69 L303.25,216.81 L304.25,216.92 L305.25,217.02 L306.25,217.13 L307.25,217.23 L308.25,217.33 L309.25,217.43 L310.25,217.52 L311.25,217.61 L312.25,217.69 L313.25,217.77 L314.25,217.85 L315.25,217.92 L316.25,217.99 L317.25,218.06 L318.25,218.12 L319.25,218.18 L320.25,218.24 L321.25,218.30 L322.25,218.35 L323.25,218.40 L324.25,218.46 L325.25,218.51 L326.25,218.56 L327.25,218.61 L328.25,218.66 L329.25,218.71 L330.25,218.76 L331.25,218.82 L332.25,218.87 L333.25,218.93 L334.25,218.98 L335.25,219.04 L336.25,219.09 L337.25,219.14 L338.25,219.20 L339.25,219.25 L340.25,219.30 L341.25,219.36 L342.25,219.41 L343.25,219.47 L344.25,219.52 L345.25,219.58 L346.25,219.64 L347.25,219.70 L348.25,219.77 L349.25,219.83 L350.25,219.90 L351.25,219.98 L352.25,220.05 L353.25,220.14 L354.25,220.22 L355.25,220.31 L356.25,220.40 L357.25,220.49 L358.25,220.58 L359.25,220.68 L360.25,220.77 L361.25,220.87 L362.25,220.97 L363.25,221.07 L364.25,221.17 L365.25,221.27 L366.25,221.36 L367.25,221.46 L368.25,221.56 L369.25,221.66 L370.25,221.77 L371.25,221.89 L372.25,222.00 L373.25,222.12 L374.25,222.24 L375.25,222.36 L376.25,222.47 L377.25,222.59 L378.25,222.70 L379.25,222.81 L380.25,222.91 L381.25,223.00 L382.25,223.09 L383.25,223.17 L384.25,223.24 L385.25,223.30 L386.25,223.35 L387.25,223.40 L388.25,223.45 L389.25,223.50 L390.25,223.54 L391.25,223.58 L392.25,223.62 L393.25,223.66 L394.25,223.69 L395.25,223.72 L396.25,223.75 L397.25,223.78 L398.25,223.81 L399.25,223.83 L400.25,223.86 L401.25,223.89 L402.25,223.92 L403.25,223.94 L404.25,223.96 L405.25,223.98 L406.25,224.00 L407.25,224.02 L408.25,224.03 L409.25,224.03 L410.25,224.04 L411.25,224.04 L412.25,224.04 L413.25,224.04 L414.25,224.04 L415.25,224.04 L416.25,224.04 L417.25,224.04 L418.25,224.04 L419.25,224.04 L420.25,224.04 L421.25,224.04 L422.25,224.04 L423.25,224.04 L424.25,224.04 L425.25,224.04 L426.25,224.04 L427.25,224.04 L428.25,224.04 L429.25,224.04 L430.25,224.04 L431.25,224.04 L432.25,224.04 L433.25,224.04 L434.25,224.04 L435.25,224.05 L436.25,224.05 L437.25,224.05 L438.25,224.06 L439.25,224.06 L440.25,224.06 L441.25,224.07 L442.25,224.07 L443.25,224.08 L444.25,224.08 L445.25,224.09 L446.25,224.09 L447.25,224.10 L448.25,224.11 L449.25,224.11 L450.25,224.12 L451.25,224.13 L452.25,224.13 L453.25,224.14 L454.25,224.15 L455.25,224.16 L456.25,224.16 L457.25,224.17 L458.25,224.18 L459.25,224.19 L460.25,224.20 L461.25,224.21 L462.25,224.21 L463.25,224.22 L464.25,224.23 L465.25,224.24 L466.25,224.25 L467.25,224.26 L468.25,224.27 L469.25,224.28 L470.25,224.29 L471.25,224.30 L472.25,224.31 L473.25,224.32 L474.25,224.34 L475.25,224.35 L476.25,224.37 L477.25,224.39 L478.25,224.41 L479.25,224.42 L480.25,224.44 L481.25,224.46 L482.25,224.48 L483.25,224.50 L484.25,224.52 L485.25,224.54 L486.25,224.56 L487.25,224.58 L488.25,224.60 L489.25,224.62 L490.25,224.65 L491.25,224.67 L492.25,224.69 L493.25,224.72 L494.25,224.74 L495.25,224.77 L496.25,224.79 L497.25,224.82 L498.25,224.84 L499.25,224.87 L500.25,224.89 L501.25,224.92 L502.25,224.94 L503.25,224.97 L504.25,224.99 L505.25,225.02 L506.25,225.04 L507.25,225.07 L508.25,225.10 L509.25,225.12 L510.25,225.15 L511.25,225.18 L512.25,225.21 L513.25,225.24 L514.25,225.27 L515.25,225.29 L516.25,225.32 L517.25,225.34 L518.25,225.36 L519.25,225.38 L520.25,225.39 L521.25,225.40 L522.25,225.41 L523.25,225.42 L524.25,225.43 L525.25,225.45 L526.25,225.46 L527.25,225.47 L528.25,225.48 L529.25,225.48 L530.25,225.49 L531.25,225.50 L532.25,225.51 L533.25,225.51 L534.25,225.52 L535.25,225.52 L536.25,225.53 L537.25,225.53 L538.25,225.53 L539.25,225.54 L540.25,225.54 L541.25,225.54 L542.25,225.54 L543.25,225.54 L544.25,225.54 L545.25,225.53 L546.25,225.53 L547.25,225.53 L548.25,225.53 L549.25,225.53 L550.25,225.53 L551.25,225.53 L552.25,225.53 L553.25,225.53 L554.25,225.53 L555.25,225.53 L556.25,225.53 L557.25,225.52 L558.25,225.52 L559.25,225.52 L560.25,225.52 L561.25,225.52 L562.25,225.52 L563.25,225.51 L564.25,225.51 L565.25,225.51 L566.25,225.51 L567.25,225.51 L568.25,225.50 L569.25,225.50 L570.25,225.50 L571.25,225.50 L572.25,225.49 L573.25,225.49 L574.25,225.49 L575.25,225.49 L576.25,225.48 L577.25,225.47 L578.25,225.46 L579.25,225.44 L580.25,225.42 L581.25,225.40 L582.25,225.39 L583.25,225.37 L584.25,225.35 L585.25,225.33 L586.25,225.32 L587.25,225.30 L588.25,225.29 L589.25,225.29 L590.25,225.29 L591.25,225.29 L592.25,225.29 L593.25,225.29 L594.25,225.29 L595.25,225.29 L596.25,225.29 L597.25,225.29 L598.25,225.29 L599.25,225.29 L600.25,225.29 L601.25,225.29 L602.25,225.30 L603.25,225.30 L604.25,225.30 L605.25,225.31 L606.25,225.31 L607.25,225.32 L608.25,225.32 L609.25,225.33 L610.00,225.34 L610.00,226.24 L609.25,226.24 L608.25,226.25 L607.25,226.25 L606.25,226.26 L605.25,226.26 L604.25,226.27 L603.25,226.27 L602.25,226.27 L601.25,226.28 L600.25,226.28 L599.25,226.28 L598.25,226.28 L597.25,226.28 L596.25,226.28 L595.25,226.29 L594.25,226.29 L593.25,226.29 L592.25,226.29 L591.25,226.29 L590.25,226.29 L589.25,226.28 L588.25,226.28 L587.25,226.27 L586.25,226.26 L585.25,226.24 L584.25,226.22 L583.25,226.21 L582.25,226.19 L581.25,226.17 L580.25,226.15 L579.25,226.13 L578.25,226.12 L577.25,226.10 L576.25,226.09 L575.25,226.09 L574.25,226.08 L573.25,226.08 L572.25,226.08 L571.25,226.08 L570.25,226.07 L569.25,226.07 L568.25,226.07 L567.25,226.07 L566.25,226.06 L565.25,226.06 L564.25,226.06 L563.25,226.06 L562.25,226.06 L561.25,226.05 L560.25,226.05 L559.25,226.05 L558.25,226.05 L557.25,226.05 L556.25,226.05 L555.25,226.05 L554.25,226.04 L553.25,226.04 L552.25,226.04 L551.25,226.04 L550.25,226.04 L549.25,226.04 L548.25,226.04 L547.25,226.04 L546.25,226.04 L545.25,226.04 L544.25,226.04 L543.25,226.04 L542.25,226.04 L541.25,226.04 L540.25,226.04 L539.25,226.04 L538.25,226.04 L537.25,226.04 L536.25,226.04 L535.25,226.05 L534.25,226.05 L533.25,226.06 L532.25,226.06 L531.25,226.07 L530.25,226.08 L529.25,226.09 L528.25,226.10 L527.25,226.11 L526.25,226.12 L525.25,226.13 L524.25,226.14 L523.25,226.15 L522.25,226.16 L521.25,226.17 L520.25,226.18 L519.25,226.20 L518.25,226.21 L517.25,226.23 L516.25,226.25 L515.25,226.28 L514.25,226.30 L513.25,226.33 L512.25,226.36 L511.25,226.39 L510.25,226.42 L509.25,226.45 L508.25,226.48 L507.25,226.50 L506.25,226.53 L505.25,226.55 L504.25,226.58 L503.25,226.60 L502.25,226.63 L501.25,226.65 L500.25,226.68 L499.25,226.71 L498.25,226.73 L497.25,226.76 L496.25,226.78 L495.25,226.81 L494.25,226.83 L493.25,226.85 L492.25,226.88 L491.25,226.90 L490.25,226.92 L489.25,226.95 L488.25,226.97 L487.25,226.99 L486.25,227.01 L485.25,227.03 L484.25,227.05 L483.25,227.07 L482.25,227.09 L481.25,227.11 L480.25,227.13 L479.25,227.15 L478.25,227.17 L477.25,227.18 L476.25,227.20 L475.25,227.22 L474.25,227.23 L473.25,227.25 L472.25,227.26 L471.25,227.27 L470.25,227.28 L469.25,227.29 L468.25,227.30 L467.25,227.31 L466.25,227.32 L465.25,227.33 L464.25,227.34 L463.25,227.35 L462.25,227.36 L461.25,227.37 L460.25,227.37 L459.25,227.38 L458.25,227.39 L457.25,227.40 L456.25,227.41 L455.25,227.42 L454.25,227.42 L453.25,227.43 L452.25,227.44 L451.25,227.45 L450.25,227.45 L449.25,227.46 L448.25,227.47 L447.25,227.47 L446.25,227.48 L445.25,227.48 L444.25,227.49 L443.25,227.49 L442.25,227.50 L441.25,227.50 L440.25,227.51 L439.25,227.51 L438.25,227.52 L437.25,227.52 L436.25,227.52 L435.25,227.53 L434.25,227.53 L433.25,227.53 L432.25,227.53 L431.25,227.53 L430.25,227.54 L429.25,227.54 L428.25,227.54 L427.25,227.54 L426.25,227.54 L425.25,227.54 L424.25,227.54 L423.25,227.54 L422.25,227.54 L421.25,227.54 L420.25,227.54 L419.25,227.54 L418.25,227.54 L417.25,227.54 L416.25,227.54 L415.25,227.54 L414.25,227.54 L413.25,227.54 L412.25,227.54 L411.25,227.54 L410.25,227.54 L409.25,227.54 L408.25,227.54 L407.25,227.55 L406.25,227.57 L405.25,227.59 L404.25,227.61 L403.25,227.63 L402.25,227.66 L401.25,227.68 L400.25,227.71 L399.25,227.74 L398.25,227.77 L397.25,227.79 L396.25,227.82 L395.25,227.85 L394.25,227.88 L393.25,227.92 L392.25,227.95 L391.25,227.99 L390.25,228.03 L389.25,228.07 L388.25,228.12 L387.25,228.17 L386.25,228.22 L385.25,228.27 L384.25,228.33 L383.25,228.40 L382.25,228.48 L381.25,228.57 L380.25,228.66 L379.25,228.76 L378.25,228.87 L377.25,228.98 L376.25,229.10 L375.25,229.21 L374.25,229.33 L373.25,229.45 L372.25,229.57 L371.25,229.68 L370.25,229.80 L369.25,229.91 L368.25,230.01 L367.25,230.11 L366.25,230.21 L365.25,230.31 L364.25,230.41 L363.25,230.50 L362.25,230.60 L361.25,230.70 L360.25,230.80 L359.25,230.90 L358.25,230.99 L357.25,231.09 L356.25,231.18 L355.25,231.27 L354.25,231.35 L353.25,231.44 L352.25,231.52 L351.25,231.59 L350.25,231.67 L349.25,231.74 L348.25,231.80 L347.25,231.87 L346.25,231.93 L345.25,231.99 L344.25,232.05 L343.25,232.11 L342.25,232.16 L341.25,232.22 L340.25,232.27 L339.25,232.32 L338.25,232.38 L337.25,232.43 L336.25,232.48 L335.25,232.53 L334.25,232.59 L333.25,232.64 L332.25,232.70 L331.25,232.76 L330.25,232.81 L329.25,232.86 L328.25,232.91 L327.25,232.96 L326.25,233.01 L325.25,233.07 L324.25,233.12 L323.25,233.17 L322.25,233.22 L321.25,233.28 L320.25,233.33 L319.25,233.39 L318.25,233.45 L317.25,233.51 L316.25,233.58 L315.25,233.65 L314.25,233.72 L313.25,233.80 L312.25,233.88 L311.25,233.97 L310.25,234.05 L309.25,234.15 L308.25,234.24 L307.25,234.34 L306.25,234.44 L305.25,234.55 L304.25,234.66 L303.25,234.77 L302.25,234.88 L301.25,234.99 L300.25,235.11 L299.25,235.23 L298.25,235.35 L297.25,235.47 L296.25,235.59 L295.25,235.72 L294.25,235.85 L293.25,235.99 L292.25,236.13 L291.25,236.27 L290.25,236.42 L289.25,236.57 L288.25,236.72 L287.25,236.88 L286.25,237.04 L285.25,237.20 L284.25,237.36 L283.25,237.53 L282.25,237.70 L281.25,237.87 L280.25,238.04 L279.25,238.22 L278.25,238.41 L277.25,238.61 L276.25,238.82 L275.25,239.03 L274.25,239.24 L273.25,239.45 L272.25,239.66 L271.25,239.86 L270.25,240.04 L269.25,240.22 L268.25,240.39 L267.25,240.55 L266.25,240.71 L265.25,240.87 L264.25,241.03 L263.25,241.18 L262.25,241.33 L261.25,241.48 L260.25,241.63 L259.25,241.78 L258.25,241.93 L257.25,242.07 L256.25,242.22 L255.25,242.37 L254.25,242.52 L253.25,242.67 L252.25,242.81 L251.25,242.96 L250.25,243.10 L249.25,243.24 L248.25,243.38 L247.25,243.51 L246.25,243.64 L245.25,243.76 L244.25,243.87 L243.25,244.00 L242.25,244.12 L241.25,244.24 L240.25,244.37 L239.25,244.48 L238.25,244.60 L237.25,244.70 L236.25,244.80 L235.25,244.88 L234.25,244.95 L233.25,245.01 L232.25,245.04 L231.25,245.08 L230.25,245.11 L229.25,245.14 L228.25,245.16 L227.25,245.19 L226.25,245.21 L225.25,245.23 L224.25,245.25 L223.25,245.26 L222.25,245.28 L221.25,245.28 L220.25,245.29 L219.25,245.28 L218.25,245.25 L217.25,245.21 L216.25,245.14 L215.25,245.07 L214.25,244.97 L213.25,244.87 L212.25,244.76 L211.25,244.65 L210.25,244.52 L209.25,244.40 L208.25,244.28 L207.25,244.16 L206.25,244.02 L205.25,243.88 L204.25,243.73 L203.25,243.56 L202.25,243.38 L201.25,243.19 L200.25,242.99 L199.25,242.78 L198.25,242.56 L197.25,242.33 L196.25,242.09 L195.25,241.85 L194.25,241.59 L193.25,241.31 L192.25,241.00 L191.25,240.67 L190.25,240.32 L189.25,239.96 L188.25,239.58 L187.25,239.19 L186.25,238.79 L185.25,238.39 L184.25,237.97 L183.25,237.53 L182.25,237.07 L181.25,236.59 L180.25,236.09 L179.25,235.59 Z" fill="#66D894" fill-opacity="0.70"/>
<path d="M259.25,277.62 L260.25,277.57 L261.25,277.52 L262.25,277.47 L263.25,277.43 L264.25,277.38 L265.25,277.34 L266.25,277.30 L267.25,277.27 L268.25,277.23 L269.25,277.20 L270.25,277.18 L271.25,277.16 L272.25,277.14 L273.25,277.13 L274.25,277.12 L275.25,277.12 L276.25,277.12 L277.25,277.12 L278.25,277.12 L279.25,277.12 L280.25,277.12 L281.25,277.12 L282.25,277.12 L283.25,277.12 L284.25,277.12 L285.25,277.12 L286.25,277.12 L287.25,277.12 L288.25,277.12 L289.25,277.14 L290.25,277.16 L291.25,277.19 L292.25,277.23 L293.25,277.28 L294.25,277.32 L295.25,277.38 L296.25,277.43 L297.25,277.48 L298.25,277.53 L299.25,277.58 L300.25,277.63 L301.25,277.67 L302.25,277.72 L303.25,277.77 L304.25,277.81 L305.25,277.86 L306.25,277.91 L307.25,277.96 L308.25,278.01 L309.25,278.06 L310.25,278.11 L311.25,278.16 L312.25,278.21 L313.25,278.26 L314.25,278.31 L315.25,278.36 L316.25,278.41 L317.25,278.47 L318.25,278.52 L319.25,278.58 L320.25,278.63 L321.25,278.68 L322.25,278.74 L323.25,278.79 L324.25,278.83 L325.25,278.88 L326.25,278.92 L327.25,278.97 L328.25,279.01 L329.25,279.05 L330.25,279.09 L331.25,279.13 L332.25,279.16 L333.25,279.20 L334.25,279.24 L335.25,279.28 L336.25,279.32 L337.25,279.36 L338.25,279.40 L339.25,279.44 L340.25,279.48 L341.25,279.52 L342.25,279.56 L343.25,279.60 L344.25,279.64 L345.25,279.68 L346.25,279.72 L347.25,279.76 L348.25,279.80 L349.25,279.84 L350.25,279.88 L351.25,279.92 L352.25,279.96 L353.25,280.00 L354.25,280.04 L355.25,280.08 L356.25,280.12 L357.25,280.16 L358.25,280.20 L359.25,280.24 L360.25,280.28 L361.25,280.32 L362.25,280.36 L363.25,280.40 L364.25,280.44 L365.25,280.48 L366.25,280.52 L367.25,280.57 L368.25,280.61 L369.25,280.65 L370.25,280.69 L371.25,280.73 L372.25,280.77 L373.25,280.81 L374.25,280.84 L375.25,280.88 L376.25,280.91 L377.25,280.94 L378.25,280.97 L379.25,281.00 L380.25,281.03 L381.25,281.06 L382.25,281.09 L383.25,281.12 L384.25,281.14 L385.25,281.17 L386.25,281.19 L387.25,281.21 L388.25,281.23 L389.25,281.25 L390.25,281.27 L391.25,281.29 L392.25,281.30 L393.25,281.32 L394.25,281.33 L395.25,281.35 L396.25,281.36 L397.25,281.38 L398.25,281.39 L399.25,281.41 L400.25,281.42 L401.25,281.44 L402.25,281.46 L403.25,281.47 L404.25,281.49 L405.25,281.51 L406.25,281.53 L407.25,281.54 L408.25,281.56 L409.25,281.58 L410.25,281.59 L411.25,281.60 L412.25,281.62 L413.25,281.63 L414.25,281.63 L415.25,281.64 L416.25,281.65 L417.25,281.66 L418.25,281.66 L419.25,281.67 L420.25,281.68 L421.25,281.68 L422.25,281.69 L423.25,281.70 L424.25,281.71 L425.25,281.72 L426.25,281.73 L427.25,281.75 L428.25,281.76 L429.25,281.78 L430.25,281.79 L431.25,281.81 L432.25,281.83 L433.25,281.85 L434.25,281.87 L435.25,281.89 L436.25,281.91 L437.25,281.94 L438.25,281.96 L439.25,281.98 L440.25,282.01 L441.25,282.03 L442.25,282.05 L443.25,282.08 L444.25,282.10 L445.25,282.12 L446.25,282.15 L447.25,282.17 L448.25,282.20 L449.25,282.22 L450.25,282.25 L451.25,282.27 L452.25,282.30 L453.25,282.33 L454.25,282.35 L455.25,282.38 L456.25,282.41 L457.25,282.44 L458.25,282.47 L459.25,282.50 L460.25,282.52 L461.25,282.55 L462.25,282.59 L463.25,282.62 L464.25,282.65 L465.25,282.68 L466.25,282.71 L466.50,282.72 L466.50,294.52 L466.25,294.53 L465.25,294.56 L464.25,294.59 L463.25,294.62 L462.25,294.65 L461.25,294.68 L460.25,294.71 L459.25,294.74 L458.25,294.77 L457.25,294.80 L456.25,294.83 L455.25,294.86 L454.25,294.88 L453.25,294.91 L452.25,294.94 L451.25,294.96 L450.25,294.99 L449.25,295.01 L448.25,295.04 L447.25,295.06 L446.25,295.09 L445.25,295.11 L444.25,295.14 L443.25,295.16 L442.25,295.18 L441.25,295.21 L440.25,295.23 L439.25,295.25 L438.25,295.28 L437.25,295.30 L436.25,295.32 L435.25,295.34 L434.25,295.36 L433.25,295.38 L432.25,295.40 L431.25,295.42 L430.25,295.44 L429.25,295.46 L428.25,295.47 L427.25,295.49 L426.25,295.50 L425.25,295.52 L424.25,295.53 L423.25,295.54 L422.25,295.54 L421.25,295.55 L420.25,295.56 L419.25,295.57 L418.25,295.57 L417.25,295.58 L416.25,295.59 L415.25,295.59 L414.25,295.60 L413.25,295.61 L412.25,295.62 L411.25,295.63 L410.25,295.65 L409.25,295.66 L408.25,295.68 L407.25,295.69 L406.25,295.71 L405.25,295.73 L404.25,295.74 L403.25,295.76 L402.25,295.78 L401.25,295.80 L400.25,295.81 L399.25,295.83 L398.25,295.85 L397.25,295.86 L396.25,295.87 L395.25,295.89 L394.25,295.90 L393.25,295.92 L392.25,295.93 L391.25,295.95 L390.25,295.97 L389.25,295.98 L388.25,296.00 L387.25,296.02 L386.25,296.04 L385.25,296.07 L384.25,296.09 L383.25,296.12 L382.25,296.15 L381.25,296.17 L380.25,296.20 L379.25,296.23 L378.25,296.26 L377.25,296.29 L376.25,296.33 L375.25,296.36 L374.25,296.39 L373.25,296.43 L372.25,296.47 L371.25,296.51 L370.25,296.55 L369.25,296.59 L368.25,296.63 L367.25,296.67 L366.25,296.71 L365.25,296.75 L364.25,296.80 L363.25,296.84 L362.25,296.88 L361.25,296.92 L360.25,296.96 L359.25,297.00 L358.25,297.04 L357.25,297.08 L356.25,297.12 L355.25,297.16 L354.25,297.20 L353.25,297.24 L352.25,297.28 L351.25,297.32 L350.25,297.36 L349.25,297.40 L348.25,297.44 L347.25,297.48 L346.25,297.52 L345.25,297.56 L344.25,297.60 L343.25,297.64 L342.25,297.68 L341.25,297.72 L340.25,297.76 L339.25,297.80 L338.25,297.84 L337.25,297.88 L336.25,297.92 L335.25,297.96 L334.25,297.99 L333.25,298.03 L332.25,298.07 L331.25,298.11 L330.25,298.15 L329.25,298.19 L328.25,298.23 L327.25,298.27 L326.25,298.31 L325.25,298.36 L324.25,298.40 L323.25,298.45 L322.25,298.50 L321.25,298.55 L320.25,298.60 L319.25,298.66 L318.25,298.71 L317.25,298.77 L316.25,298.82 L315.25,298.88 L314.25,298.93 L313.25,298.98 L312.25,299.03 L311.25,299.08 L310.25,299.13 L309.25,299.18 L308.25,299.23 L307.25,299.28 L306.25,299.33 L305.25,299.38 L304.25,299.42 L303.25,299.47 L302.25,299.52 L301.25,299.56 L300.25,299.61 L299.25,299.65 L298.25,299.70 L297.25,299.75 L296.25,299.81 L295.25,299.86 L294.25,299.91 L293.25,299.96 L292.25,300.01 L291.25,300.04 L290.25,300.08 L289.25,300.10 L288.25,300.11 L287.25,300.12 L286.25,300.12 L285.25,300.12 L284.25,300.12 L283.25,300.12 L282.25,300.12 L281.25,300.12 L280.25,300.12 L279.25,300.12 L278.25,300.12 L277.25,300.12 L276.25,300.12 L275.25,300.12 L274.25,300.12 L273.25,300.11 L272.25,300.10 L271.25,300.08 L270.25,300.06 L269.25,300.03 L268.25,300.00 L267.25,299.97 L266.25,299.93 L265.25,299.89 L264.25,299.85 L263.25,299.81 L262.25,299.76 L261.25,299.72 L260.25,299.67 L259.25,299.62 Z" fill="#55C29C" fill-opacity="0.70"/>
<path d="M188.25,335.35 L189.25,334.46 L190.25,333.60 L191.25,332.79 L192.25,332.05 L193.25,331.40 L194.25,330.87 L195.25,330.46 L196.25,330.10 L197.25,329.77 L198.25,329.46 L199.25,329.18 L200.25,328.93 L201.25,328.70 L202.25,328.51 L203.25,328.35 L204.25,328.22 L205.25,328.13 L206.25,328.05 L207.25,327.97 L208.25,327.90 L209.25,327.84 L210.25,327.78 L211.25,327.72 L212.25,327.67 L213.25,327.63 L214.25,327.60 L215.25,327.57 L216.25,327.56 L217.25,327.55 L218.25,327.56 L219.25,327.59 L220.25,327.65 L221.25,327.72 L222.25,327.82 L223.25,327.93 L224.25,328.06 L225.25,328.20 L226.25,328.35 L227.25,328.50 L228.25,328.67 L229.25,328.83 L230.25,328.99 L231.25,329.19 L232.25,329.42 L233.25,329.69 L234.25,329.98 L235.25,330.29 L236.25,330.62 L237.25,330.96 L238.25,331.30 L239.25,331.63 L240.25,331.97 L241.25,332.28 L242.25,332.58 L243.25,332.86 L244.25,333.14 L245.25,333.42 L246.25,333.70 L247.25,333.98 L248.25,334.26 L249.25,334.53 L250.25,334.80 L251.25,335.06 L252.25,335.31 L253.25,335.55 L254.25,335.78 L255.25,336.00 L256.25,336.22 L257.25,336.42 L258.25,336.62 L259.25,336.82 L260.25,337.01 L261.25,337.19 L262.25,337.37 L263.25,337.55 L264.25,337.72 L265.25,337.89 L266.25,338.05 L267.25,338.21 L268.25,338.37 L269.25,338.52 L270.25,338.66 L271.25,338.80 L272.25,338.94 L273.25,339.08 L274.25,339.21 L275.25,339.34 L276.25,339.47 L277.25,339.60 L278.25,339.73 L279.25,339.85 L280.25,339.98 L281.25,340.11 L282.25,340.23 L283.25,340.36 L284.25,340.48 L285.25,340.60 L286.25,340.72 L287.25,340.84 L288.25,340.95 L289.25,341.07 L290.25,341.19 L291.25,341.31 L292.25,341.42 L293.25,341.54 L294.25,341.65 L295.25,341.77 L296.25,341.89 L297.25,342.01 L298.25,342.12 L299.25,342.24 L300.25,342.35 L301.25,342.46 L302.25,342.57 L303.25,342.68 L304.25,342.78 L305.25,342.87 L306.25,342.97 L307.25,343.06 L308.25,343.15 L309.25,343.24 L310.25,343.33 L311.25,343.42 L312.25,343.50 L313.25,343.58 L314.25,343.66 L315.25,343.74 L316.25,343.81 L317.25,343.88 L318.25,343.95 L319.25,344.02 L320.25,344.08 L321.25,344.15 L322.25,344.21 L323.25,344.27 L324.25,344.33 L325.25,344.39 L326.25,344.45 L327.25,344.50 L328.25,344.56 L329.25,344.61 L330.25,344.66 L331.25,344.72 L332.25,344.77 L333.25,344.82 L334.25,344.87 L335.25,344.92 L336.25,344.97 L337.25,345.01 L338.25,345.06 L339.25,345.11 L340.25,345.15 L341.25,345.20 L342.25,345.24 L343.25,345.28 L344.25,345.32 L345.25,345.36 L346.25,345.40 L347.25,345.44 L348.25,345.48 L349.25,345.51 L350.25,345.55 L351.25,345.59 L352.25,345.63 L353.25,345.67 L354.25,345.72 L355.25,345.76 L356.25,345.81 L357.25,345.86 L358.25,345.92 L359.25,345.97 L360.25,346.03 L361.25,346.09 L362.25,346.15 L363.25,346.21 L364.25,346.27 L365.25,346.34 L366.25,346.40 L367.25,346.47 L368.25,346.53 L369.25,346.60 L370.25,346.67 L371.25,346.74 L372.25,346.81 L373.25,346.88 L374.25,346.96 L375.25,347.03 L376.25,347.11 L377.25,347.19 L378.25,347.27 L379.25,347.35 L380.25,347.43 L381.25,347.51 L382.25,347.59 L383.25,347.67 L384.25,347.75 L385.25,347.82 L386.25,347.90 L387.25,347.97 L388.25,348.04 L389.25,348.10 L390.25,348.17 L391.25,348.23 L392.25,348.29 L393.25,348.35 L394.25,348.41 L395.25,348.47 L396.25,348.52 L397.25,348.58 L398.25,348.64 L399.25,348.69 L400.25,348.75 L401.25,348.80 L402.25,348.86 L403.25,348.91 L404.25,348.96 L405.25,349.01 L406.25,349.06 L407.25,349.11 L408.25,349.16 L409.25,349.20 L410.25,349.25 L411.25,349.29 L412.25,349.34 L413.25,349.38 L414.25,349.42 L415.25,349.46 L416.25,349.50 L417.25,349.54 L418.25,349.58 L419.25,349.62 L420.25,349.66 L421.25,349.70 L422.25,349.74 L423.25,349.78 L424.25,349.82 L425.25,349.86 L426.25,349.90 L427.25,349.93 L428.25,349.97 L429.25,350.00 L430.25,350.04 L431.25,350.07 L432.25,350.10 L433.25,350.12 L434.25,350.15 L435.25,350.17 L436.25,350.19 L437.25,350.21 L438.25,350.23 L439.25,350.24 L440.25,350.25 L441.25,350.26 L442.25,350.27 L443.25,350.28 L444.25,350.29 L445.25,350.30 L446.25,350.31 L447.25,350.32 L448.25,350.32 L449.25,350.33 L450.25,350.34 L451.25,350.35 L452.25,350.36 L453.25,350.36 L454.25,350.37 L455.25,350.38 L456.25,350.38 L457.25,350.39 L458.25,350.40 L459.25,350.40 L460.25,350.41 L461.25,350.42 L462.25,350.42 L463.25,350.43 L464.25,350.43 L465.25,350.44 L466.25,350.45 L467.25,350.45 L468.25,350.46 L469.25,350.46 L470.25,350.47 L471.25,350.47 L472.25,350.48 L473.25,350.48 L474.25,350.49 L475.25,350.49 L476.25,350.50 L477.25,350.50 L478.25,350.50 L479.25,350.51 L480.25,350.51 L481.25,350.52 L482.25,350.52 L483.25,350.52 L484.25,350.53 L485.25,350.53 L486.25,350.53 L487.25,350.54 L488.25,350.54 L489.25,350.54 L490.25,350.55 L491.25,350.55 L492.25,350.55 L493.25,350.56 L494.25,350.56 L495.25,350.56 L496.25,350.56 L497.25,350.57 L498.25,350.57 L499.25,350.57 L500.25,350.58 L501.25,350.58 L502.25,350.58 L503.25,350.58 L504.25,350.58 L505.25,350.59 L506.25,350.59 L507.25,350.59 L508.25,350.59 L509.25,350.60 L510.25,350.60 L511.25,350.60 L512.25,350.60 L513.25,350.60 L514.25,350.61 L515.25,350.61 L516.25,350.61 L517.25,350.61 L518.25,350.62 L519.25,350.62 L520.25,350.62 L521.25,350.62 L522.25,350.62 L523.25,350.62 L524.25,350.63 L525.25,350.63 L526.25,350.63 L527.25,350.63 L528.25,350.63 L529.25,350.63 L530.25,350.64 L531.25,350.64 L532.25,350.64 L533.25,350.64 L534.25,350.64 L535.25,350.64 L536.25,350.64 L537.25,350.64 L538.25,350.65 L539.25,350.65 L540.25,350.65 L541.25,350.65 L542.25,350.65 L543.25,350.65 L544.25,350.65 L544.75,350.65 L544.75,351.65 L544.25,351.65 L543.25,351.65 L542.25,351.65 L541.25,351.65 L540.25,351.65 L539.25,351.65 L538.25,351.65 L537.25,351.66 L536.25,351.66 L535.25,351.66 L534.25,351.66 L533.25,351.66 L532.25,351.66 L531.25,351.66 L530.25,351.66 L529.25,351.67 L528.25,351.67 L527.25,351.67 L526.25,351.67 L525.25,351.67 L524.25,351.67 L523.25,351.68 L522.25,351.68 L521.25,351.68 L520.25,351.68 L519.25,351.68 L518.25,351.68 L517.25,351.69 L516.25,351.69 L515.25,351.69 L514.25,351.69 L513.25,351.70 L512.25,351.70 L511.25,351.70 L510.25,351.70 L509.25,351.70 L508.25,351.71 L507.25,351.71 L506.25,351.71 L505.25,351.71 L504.25,351.72 L503.25,351.72 L502.25,351.72 L501.25,351.72 L500.25,351.72 L499.25,351.73 L498.25,351.73 L497.25,351.73 L496.25,351.74 L495.25,351.74 L494.25,351.74 L493.25,351.74 L492.25,351.75 L491.25,351.75 L490.25,351.75 L489.25,351.76 L488.25,351.76 L487.25,351.76 L486.25,351.77 L485.25,351.77 L484.25,351.77 L483.25,351.78 L482.25,351.78 L481.25,351.78 L480.25,351.79 L479.25,351.79 L478.25,351.80 L477.25,351.80 L476.25,351.80 L475.25,351.81 L474.25,351.81 L473.25,351.82 L472.25,351.82 L471.25,351.83 L470.25,351.83 L469.25,351.84 L468.25,351.84 L467.25,351.85 L466.25,351.85 L465.25,351.86 L464.25,351.87 L463.25,351.87 L462.25,351.88 L461.25,351.88 L460.25,351.89 L459.25,351.90 L458.25,351.90 L457.25,351.91 L456.25,351.92 L455.25,351.92 L454.25,351.93 L453.25,351.94 L452.25,351.94 L451.25,351.95 L450.25,351.96 L449.25,351.97 L448.25,351.98 L447.25,351.98 L446.25,351.99 L445.25,352.00 L444.25,352.01 L443.25,352.02 L442.25,352.03 L441.25,352.04 L440.25,352.05 L439.25,352.06 L438.25,352.07 L437.25,352.09 L436.25,352.11 L435.25,352.13 L434.25,352.15 L433.25,352.18 L432.25,352.20 L431.25,352.23 L430.25,352.26 L429.25,352.30 L428.25,352.33 L427.25,352.37 L426.25,352.40 L425.25,352.44 L424.25,352.48 L423.25,352.52 L422.25,352.56 L421.25,352.60 L420.25,352.64 L419.25,352.68 L418.25,352.72 L417.25,352.76 L416.25,352.80 L415.25,352.84 L414.25,352.88 L413.25,352.92 L412.25,352.96 L411.25,353.01 L410.25,353.05 L409.25,353.10 L408.25,353.14 L407.25,353.19 L406.25,353.24 L405.25,353.29 L404.25,353.34 L403.25,353.39 L402.25,353.44 L401.25,353.50 L400.25,353.55 L399.25,353.61 L398.25,353.66 L397.25,353.72 L396.25,353.78 L395.25,353.83 L394.25,353.89 L393.25,353.95 L392.25,354.01 L391.25,354.07 L390.25,354.13 L389.25,354.20 L388.25,354.26 L387.25,354.33 L386.25,354.40 L385.25,354.48 L384.25,354.55 L383.25,354.63 L382.25,354.71 L381.25,354.79 L380.25,354.87 L379.25,354.95 L378.25,355.03 L377.25,355.11 L376.25,355.19 L375.25,355.27 L374.25,355.34 L373.25,355.42 L372.25,355.49 L371.25,355.56 L370.25,355.63 L369.25,355.70 L368.25,355.77 L367.25,355.83 L366.25,355.90 L365.25,355.96 L364.25,356.03 L363.25,356.09 L362.25,356.15 L361.25,356.21 L360.25,356.27 L359.25,356.33 L358.25,356.38 L357.25,356.44 L356.25,356.49 L355.25,356.54 L354.25,356.58 L353.25,356.63 L352.25,356.67 L351.25,356.71 L350.25,356.75 L349.25,356.79 L348.25,356.82 L347.25,356.86 L346.25,356.90 L345.25,356.94 L344.25,356.98 L343.25,357.02 L342.25,357.06 L341.25,357.10 L340.25,357.15 L339.25,357.19 L338.25,357.24 L337.25,357.29 L336.25,357.33 L335.25,357.38 L334.25,357.43 L333.25,357.48 L332.25,357.53 L331.25,357.58 L330.25,357.64 L329.25,357.69 L328.25,357.74 L327.25,357.80 L326.25,357.85 L325.25,357.91 L324.25,357.97 L323.25,358.03 L322.25,358.09 L321.25,358.15 L320.25,358.22 L319.25,358.28 L318.25,358.35 L317.25,358.42 L316.25,358.49 L315.25,358.56 L314.25,358.64 L313.25,358.72 L312.25,358.80 L311.25,358.88 L310.25,358.97 L309.25,359.06 L308.25,359.15 L307.25,359.24 L306.25,359.33 L305.25,359.43 L304.25,359.52 L303.25,359.62 L302.25,359.73 L301.25,359.84 L300.25,359.95 L299.25,360.06 L298.25,360.18 L297.25,360.29 L296.25,360.41 L295.25,360.53 L294.25,360.65 L293.25,360.76 L292.25,360.88 L291.25,360.99 L290.25,361.11 L289.25,361.23 L288.25,361.35 L287.25,361.46 L286.25,361.58 L285.25,361.70 L284.25,361.82 L283.25,361.94 L282.25,362.07 L281.25,362.19 L280.25,362.32 L279.25,362.45 L278.25,362.57 L277.25,362.70 L276.25,362.83 L275.25,362.96 L274.25,363.09 L273.25,363.22 L272.25,363.36 L271.25,363.50 L270.25,363.64 L269.25,363.78 L268.25,363.93 L267.25,364.09 L266.25,364.25 L265.25,364.41 L264.25,364.58 L263.25,364.75 L262.25,364.93 L261.25,365.11 L260.25,365.29 L259.25,365.48 L258.25,365.68 L257.25,365.88 L256.25,366.08 L255.25,366.30 L254.25,366.52 L253.25,366.75 L252.25,366.99 L251.25,367.24 L250.25,367.50 L249.25,367.77 L248.25,368.04 L247.25,368.32 L246.25,368.60 L245.25,368.88 L244.25,369.16 L243.25,369.44 L242.25,369.72 L241.25,370.02 L240.25,370.33 L239.25,370.67 L238.25,371.00 L237.25,371.34 L236.25,371.68 L235.25,372.01 L234.25,372.32 L233.25,372.61 L232.25,372.88 L231.25,373.11 L230.25,373.31 L229.25,373.47 L228.25,373.63 L227.25,373.80 L226.25,373.95 L225.25,374.10 L224.25,374.24 L223.25,374.37 L222.25,374.48 L221.25,374.58 L220.25,374.65 L219.25,374.71 L218.25,374.74 L217.25,374.75 L216.25,374.74 L215.25,374.73 L214.25,374.70 L213.25,374.67 L212.25,374.63 L211.25,374.58 L210.25,374.52 L209.25,374.46 L208.25,374.40 L207.25,374.33 L206.25,374.25 L205.25,374.17 L204.25,374.08 L203.25,373.95 L202.25,373.79 L201.25,373.60 L200.25,373.37 L199.25,373.12 L198.25,372.84 L197.25,372.53 L196.25,372.20 L195.25,371.84 L194.25,371.43 L193.25,370.90 L192.25,370.25 L191.25,369.51 L190.25,368.70 L189.25,367.84 L188.25,366.95 Z" fill="#4F9F9C" fill-opacity="0.70"/>
<path d="M175.00,410.08 L176.00,410.02 L177.00,409.96 L178.00,409.90 L179.00,409.85 L180.00,409.79 L181.00,409.74 L182.00,409.68 L183.00,409.63 L184.00,409.57 L185.00,409.52 L186.00,409.47 L187.00,409.42 L188.00,409.38 L189.00,409.33 L190.00,409.28 L191.00,409.24 L192.00,409.20 L193.00,409.15 L194.00,409.11 L195.00,409.08 L196.00,409.04 L197.00,409.00 L198.00,408.96 L199.00,408.92 L200.00,408.89 L201.00,408.85 L202.00,408.80 L203.00,408.76 L204.00,408.72 L205.00,408.67 L206.00,408.63 L207.00,408.58 L208.00,408.53 L209.00,408.49 L210.00,408.44 L211.00,408.39 L212.00,408.34 L213.00,408.29 L214.00,408.23 L215.00,408.18 L216.00,408.13 L217.00,408.08 L218.00,408.02 L219.00,407.97 L220.00,407.91 L221.00,407.86 L222.00,407.80 L223.00,407.74 L224.00,407.68 L225.00,407.61 L226.00,407.54 L227.00,407.47 L228.00,407.39 L229.00,407.31 L230.00,407.22 L231.00,407.12 L232.00,407.01 L233.00,406.91 L234.00,406.79 L235.00,406.68 L236.00,406.56 L237.00,406.44 L238.00,406.32 L239.00,406.20 L240.00,406.08 L241.00,405.96 L242.00,405.83 L243.00,405.70 L244.00,405.56 L245.00,405.42 L246.00,405.28 L247.00,405.14 L248.00,405.01 L249.00,404.87 L250.00,404.74 L251.00,404.61 L252.00,404.49 L253.00,404.38 L254.00,404.26 L255.00,404.16 L256.00,404.05 L257.00,403.95 L258.00,403.84 L259.00,403.74 L260.00,403.65 L261.00,403.55 L262.00,403.46 L263.00,403.36 L264.00,403.27 L265.00,403.18 L266.00,403.09 L267.00,403.01 L268.00,402.92 L269.00,402.84 L270.00,402.75 L271.00,402.67 L272.00,402.59 L273.00,402.51 L274.00,402.43 L275.00,402.36 L276.00,402.29 L277.00,402.22 L278.00,402.15 L279.00,402.08 L280.00,402.02 L281.00,401.95 L282.00,401.89 L283.00,401.83 L284.00,401.77 L285.00,401.71 L286.00,401.66 L287.00,401.60 L288.00,401.54 L289.00,401.49 L290.00,401.43 L291.00,401.38 L292.00,401.32 L293.00,401.26 L294.00,401.20 L295.00,401.15 L296.00,401.09 L297.00,401.04 L298.00,400.98 L299.00,400.93 L300.00,400.89 L301.00,400.84 L302.00,400.80 L303.00,400.76 L304.00,400.73 L305.00,400.69 L306.00,400.65 L307.00,400.61 L308.00,400.58 L309.00,400.54 L310.00,400.51 L311.00,400.48 L312.00,400.46 L313.00,400.45 L314.00,400.44 L315.00,400.43 L316.00,400.43 L317.00,400.43 L318.00,400.43 L319.00,400.44 L320.00,400.44 L321.00,400.44 L322.00,400.44 L323.00,400.45 L324.00,400.45 L325.00,400.46 L326.00,400.46 L327.00,400.47 L328.00,400.47 L329.00,400.48 L330.00,400.48 L331.00,400.49 L332.00,400.52 L333.00,400.55 L334.00,400.59 L335.00,400.64 L336.00,400.70 L337.00,400.76 L338.00,400.83 L339.00,400.91 L340.00,400.99 L341.00,401.08 L342.00,401.17 L343.00,401.27 L344.00,401.37 L345.00,401.47 L346.00,401.57 L347.00,401.67 L348.00,401.77 L349.00,401.87 L350.00,401.97 L351.00,402.07 L352.00,402.17 L353.00,402.26 L354.00,402.35 L355.00,402.43 L356.00,402.51 L357.00,402.60 L358.00,402.68 L359.00,402.77 L360.00,402.86 L361.00,402.95 L362.00,403.04 L363.00,403.13 L364.00,403.22 L365.00,403.31 L366.00,403.40 L367.00,403.49 L368.00,403.58 L369.00,403.67 L370.00,403.76 L371.00,403.85 L372.00,403.93 L373.00,404.02 L374.00,404.11 L375.00,404.19 L376.00,404.27 L377.00,404.35 L378.00,404.43 L379.00,404.51 L380.00,404.58 L381.00,404.65 L382.00,404.73 L383.00,404.80 L384.00,404.86 L385.00,404.93 L386.00,405.00 L387.00,405.06 L388.00,405.13 L389.00,405.19 L390.00,405.25 L391.00,405.31 L392.00,405.37 L393.00,405.44 L394.00,405.50 L395.00,405.56 L396.00,405.62 L397.00,405.68 L398.00,405.74 L399.00,405.80 L400.00,405.86 L401.00,405.93 L402.00,405.99 L403.00,406.05 L404.00,406.12 L405.00,406.18 L406.00,406.25 L407.00,406.32 L408.00,406.38 L409.00,406.45 L410.00,406.52 L411.00,406.59 L412.00,406.66 L413.00,406.73 L414.00,406.80 L415.00,406.87 L416.00,406.94 L417.00,407.01 L418.00,407.08 L419.00,407.15 L420.00,407.22 L421.00,407.29 L422.00,407.35 L423.00,407.42 L424.00,407.49 L425.00,407.56 L426.00,407.62 L427.00,407.69 L428.00,407.75 L429.00,407.82 L430.00,407.88 L431.00,407.94 L432.00,408.01 L433.00,408.07 L434.00,408.13 L435.00,408.19 L436.00,408.25 L437.00,408.32 L438.00,408.38 L439.00,408.44 L440.00,408.50 L441.00,408.56 L442.00,408.62 L443.00,408.67 L444.00,408.73 L445.00,408.79 L446.00,408.85 L447.00,408.90 L448.00,408.96 L449.00,409.01 L450.00,409.07 L451.00,409.12 L452.00,409.18 L453.00,409.23 L454.00,409.28 L455.00,409.33 L456.00,409.38 L457.00,409.43 L458.00,409.48 L459.00,409.53 L460.00,409.58 L461.00,409.63 L462.00,409.67 L463.00,409.72 L464.00,409.76 L465.00,409.80 L466.00,409.84 L467.00,409.88 L468.00,409.92 L469.00,409.95 L470.00,409.98 L471.00,410.01 L472.00,410.04 L473.00,410.07 L474.00,410.10 L475.00,410.13 L476.00,410.15 L477.00,410.18 L478.00,410.21 L479.00,410.25 L480.00,410.28 L481.00,410.32 L482.00,410.36 L482.50,410.38 L482.50,416.98 L482.00,417.00 L481.00,417.04 L480.00,417.08 L479.00,417.12 L478.00,417.15 L477.00,417.18 L476.00,417.21 L475.00,417.24 L474.00,417.27 L473.00,417.29 L472.00,417.32 L471.00,417.35 L470.00,417.38 L469.00,417.41 L468.00,417.45 L467.00,417.48 L466.00,417.52 L465.00,417.56 L464.00,417.60 L463.00,417.65 L462.00,417.69 L461.00,417.74 L460.00,417.78 L459.00,417.83 L458.00,417.88 L457.00,417.93 L456.00,417.98 L455.00,418.03 L454.00,418.08 L453.00,418.13 L452.00,418.19 L451.00,418.24 L450.00,418.29 L449.00,418.35 L448.00,418.40 L447.00,418.46 L446.00,418.52 L445.00,418.57 L444.00,418.63 L443.00,418.69 L442.00,418.75 L441.00,418.81 L440.00,418.87 L439.00,418.93 L438.00,418.99 L437.00,419.05 L436.00,419.11 L435.00,419.17 L434.00,419.23 L433.00,419.29 L432.00,419.36 L431.00,419.42 L430.00,419.48 L429.00,419.55 L428.00,419.61 L427.00,419.67 L426.00,419.74 L425.00,419.81 L424.00,419.87 L423.00,419.94 L422.00,420.01 L421.00,420.08 L420.00,420.15 L419.00,420.22 L418.00,420.29 L417.00,420.36 L416.00,420.43 L415.00,420.50 L414.00,420.57 L413.00,420.64 L412.00,420.71 L411.00,420.78 L410.00,420.84 L409.00,420.91 L408.00,420.98 L407.00,421.05 L406.00,421.12 L405.00,421.18 L404.00,421.25 L403.00,421.31 L402.00,421.38 L401.00,421.44 L400.00,421.50 L399.00,421.56 L398.00,421.62 L397.00,421.68 L396.00,421.75 L395.00,421.81 L394.00,421.87 L393.00,421.93 L392.00,421.99 L391.00,422.05 L390.00,422.11 L389.00,422.18 L388.00,422.24 L387.00,422.30 L386.00,422.37 L385.00,422.43 L384.00,422.50 L383.00,422.57 L382.00,422.64 L381.00,422.71 L380.00,422.78 L379.00,422.86 L378.00,422.93 L377.00,423.01 L376.00,423.09 L375.00,423.17 L374.00,423.26 L373.00,423.34 L372.00,423.43 L371.00,423.52 L370.00,423.61 L369.00,423.70 L368.00,423.79 L367.00,423.88 L366.00,423.97 L365.00,424.06 L364.00,424.15 L363.00,424.24 L362.00,424.33 L361.00,424.42 L360.00,424.51 L359.00,424.59 L358.00,424.68 L357.00,424.77 L356.00,424.85 L355.00,424.93 L354.00,425.02 L353.00,425.11 L352.00,425.20 L351.00,425.29 L350.00,425.39 L349.00,425.49 L348.00,425.59 L347.00,425.70 L346.00,425.80 L345.00,425.90 L344.00,426.00 L343.00,426.10 L342.00,426.19 L341.00,426.28 L340.00,426.37 L339.00,426.45 L338.00,426.53 L337.00,426.60 L336.00,426.67 L335.00,426.73 L334.00,426.78 L333.00,426.82 L332.00,426.85 L331.00,426.87 L330.00,426.88 L329.00,426.89 L328.00,426.89 L327.00,426.90 L326.00,426.90 L325.00,426.91 L324.00,426.91 L323.00,426.92 L322.00,426.92 L321.00,426.92 L320.00,426.93 L319.00,426.93 L318.00,426.93 L317.00,426.93 L316.00,426.93 L315.00,426.93 L314.00,426.93 L313.00,426.92 L312.00,426.90 L311.00,426.88 L310.00,426.85 L309.00,426.82 L308.00,426.79 L307.00,426.75 L306.00,426.71 L305.00,426.68 L304.00,426.64 L303.00,426.60 L302.00,426.56 L301.00,426.52 L300.00,426.48 L299.00,426.43 L298.00,426.38 L297.00,426.33 L296.00,426.27 L295.00,426.22 L294.00,426.16 L293.00,426.10 L292.00,426.05 L291.00,425.99 L290.00,425.93 L289.00,425.88 L288.00,425.82 L287.00,425.76 L286.00,425.71 L285.00,425.65 L284.00,425.59 L283.00,425.53 L282.00,425.47 L281.00,425.41 L280.00,425.35 L279.00,425.28 L278.00,425.22 L277.00,425.15 L276.00,425.08 L275.00,425.00 L274.00,424.93 L273.00,424.85 L272.00,424.77 L271.00,424.69 L270.00,424.61 L269.00,424.53 L268.00,424.44 L267.00,424.36 L266.00,424.27 L265.00,424.18 L264.00,424.09 L263.00,424.00 L262.00,423.91 L261.00,423.81 L260.00,423.72 L259.00,423.62 L258.00,423.52 L257.00,423.42 L256.00,423.31 L255.00,423.21 L254.00,423.10 L253.00,422.99 L252.00,422.87 L251.00,422.75 L250.00,422.63 L249.00,422.49 L248.00,422.36 L247.00,422.22 L246.00,422.08 L245.00,421.94 L244.00,421.80 L243.00,421.67 L242.00,421.53 L241.00,421.40 L240.00,421.28 L239.00,421.16 L238.00,421.04 L237.00,420.92 L236.00,420.80 L235.00,420.69 L234.00,420.57 L233.00,420.46 L232.00,420.35 L231.00,420.25 L230.00,420.15 L229.00,420.06 L228.00,419.97 L227.00,419.89 L226.00,419.82 L225.00,419.75 L224.00,419.69 L223.00,419.62 L222.00,419.56 L221.00,419.51 L220.00,419.45 L219.00,419.39 L218.00,419.34 L217.00,419.29 L216.00,419.24 L215.00,419.18 L214.00,419.13 L213.00,419.08 L212.00,419.03 L211.00,418.98 L210.00,418.93 L209.00,418.88 L208.00,418.83 L207.00,418.78 L206.00,418.74 L205.00,418.69 L204.00,418.65 L203.00,418.60 L202.00,418.56 L201.00,418.52 L200.00,418.48 L199.00,418.44 L198.00,418.40 L197.00,418.36 L196.00,418.33 L195.00,418.29 L194.00,418.25 L193.00,418.21 L192.00,418.17 L191.00,418.13 L190.00,418.08 L189.00,418.04 L188.00,417.99 L187.00,417.94 L186.00,417.89 L185.00,417.84 L184.00,417.79 L183.00,417.74 L182.00,417.68 L181.00,417.63 L180.00,417.57 L179.00,417.52 L178.00,417.46 L177.00,417.40 L176.00,417.34 L175.00,417.28 Z" fill="#4F819F" fill-opacity="0.70"/>
<path d="M174.25,460.41 L175.25,460.01 L176.25,459.61 L177.25,459.23 L178.25,458.87 L179.25,458.52 L180.25,458.19 L181.25,457.88 L182.25,457.57 L183.25,457.27 L184.25,456.99 L185.25,456.72 L186.25,456.48 L187.25,456.26 L188.25,456.07 L189.25,455.89 L190.25,455.71 L191.25,455.54 L192.25,455.38 L193.25,455.24 L194.25,455.12 L195.25,455.03 L196.25,454.97 L197.25,454.92 L198.25,454.88 L199.25,454.84 L200.25,454.80 L201.25,454.77 L202.25,454.74 L203.25,454.73 L204.25,454.72 L205.25,454.71 L206.25,454.72 L207.25,454.72 L208.25,454.73 L209.25,454.74 L210.25,454.75 L211.25,454.77 L212.25,454.78 L213.25,454.80 L214.25,454.83 L215.25,454.90 L216.25,455.02 L217.25,455.18 L218.25,455.36 L219.25,455.56 L220.25,455.76 L221.25,455.96 L222.25,456.15 L223.25,456.33 L224.25,456.50 L225.25,456.67 L226.25,456.85 L227.25,457.03 L228.25,457.22 L229.25,457.41 L230.25,457.60 L231.25,457.80 L232.25,458.01 L233.25,458.23 L234.25,458.46 L235.25,458.69 L236.25,458.93 L237.25,459.17 L238.25,459.40 L239.25,459.63 L240.25,459.85 L241.25,460.06 L242.25,460.28 L243.25,460.50 L244.25,460.71 L245.25,460.92 L246.25,461.13 L247.25,461.32 L248.25,461.51 L249.25,461.69 L250.25,461.86 L251.25,462.02 L252.25,462.17 L253.25,462.31 L254.25,462.46 L255.25,462.61 L256.25,462.78 L257.25,462.95 L258.25,463.14 L259.25,463.36 L260.25,463.59 L261.25,463.83 L262.25,464.07 L263.25,464.32 L264.25,464.56 L265.25,464.78 L266.25,464.99 L267.25,465.17 L268.25,465.35 L269.25,465.52 L270.25,465.69 L271.25,465.85 L272.25,466.00 L273.25,466.15 L274.25,466.30 L275.25,466.43 L276.25,466.57 L277.25,466.69 L278.25,466.81 L279.25,466.93 L280.25,467.05 L281.25,467.16 L282.25,467.27 L283.25,467.39 L284.25,467.51 L285.25,467.62 L286.25,467.74 L287.25,467.86 L288.25,467.98 L289.25,468.09 L290.25,468.19 L291.25,468.29 L292.25,468.38 L293.25,468.47 L294.25,468.56 L295.25,468.64 L296.25,468.72 L297.25,468.80 L298.25,468.87 L299.25,468.93 L300.25,469.00 L301.25,469.06 L302.25,469.12 L303.25,469.17 L304.25,469.23 L305.25,469.28 L306.25,469.34 L307.25,469.39 L308.25,469.44 L309.25,469.50 L310.25,469.55 L311.25,469.60 L312.25,469.66 L313.25,469.71 L314.25,469.77 L315.25,469.83 L316.25,469.89 L317.25,469.95 L318.25,470.00 L319.25,470.06 L320.25,470.11 L321.25,470.17 L322.25,470.23 L323.25,470.29 L324.25,470.34 L325.25,470.40 L326.25,470.46 L327.25,470.53 L328.25,470.59 L329.25,470.66 L330.25,470.73 L331.25,470.81 L332.25,470.89 L333.25,470.97 L334.25,471.06 L335.25,471.17 L336.25,471.29 L337.25,471.41 L338.25,471.54 L339.25,471.67 L340.25,471.81 L341.25,471.94 L342.25,472.08 L343.25,472.21 L344.25,472.34 L345.25,472.46 L346.25,472.58 L347.25,472.68 L348.25,472.78 L349.25,472.86 L350.25,472.93 L351.25,472.99 L352.25,473.06 L353.25,473.11 L354.25,473.17 L355.25,473.23 L356.25,473.28 L357.25,473.33 L358.25,473.38 L359.25,473.42 L360.25,473.47 L361.25,473.51 L362.25,473.55 L363.25,473.58 L364.25,473.62 L365.25,473.65 L366.25,473.68 L367.25,473.71 L368.25,473.73 L369.25,473.76 L370.25,473.78 L371.25,473.80 L372.25,473.83 L373.25,473.85 L374.25,473.88 L375.25,473.90 L376.25,473.92 L377.25,473.94 L378.25,473.95 L379.25,473.97 L380.25,473.98 L381.25,473.99 L382.25,474.00 L383.25,474.01 L384.25,474.01 L385.25,474.01 L386.25,474.01 L387.25,474.01 L388.25,474.01 L389.25,474.01 L390.25,474.01 L391.25,474.01 L392.25,474.01 L393.25,474.01 L394.25,474.01 L395.25,474.01 L396.25,474.01 L397.25,474.01 L398.25,474.01 L399.25,474.01 L400.25,474.01 L401.25,474.01 L402.25,474.01 L403.25,474.01 L404.25,474.01 L405.25,474.01 L406.25,474.01 L407.25,474.01 L408.25,474.01 L409.25,474.01 L410.25,474.01 L411.25,474.01 L412.25,474.01 L413.25,474.01 L414.25,474.01 L415.25,474.01 L416.25,474.01 L417.25,474.01 L418.25,474.01 L419.25,474.01 L420.25,474.01 L421.25,474.01 L422.25,474.01 L423.25,474.01 L424.25,474.01 L425.25,474.01 L426.25,474.01 L427.25,474.02 L428.25,474.02 L429.25,474.02 L430.25,474.02 L431.25,474.02 L432.25,474.02 L433.25,474.02 L434.25,474.02 L435.25,474.02 L436.25,474.02 L437.25,474.02 L438.25,474.02 L439.25,474.02 L440.25,474.02 L441.25,474.02 L442.25,474.02 L443.25,474.03 L444.25,474.03 L445.25,474.03 L446.25,474.03 L447.25,474.03 L448.25,474.03 L449.25,474.03 L450.25,474.03 L451.25,474.03 L452.25,474.03 L453.25,474.04 L454.25,474.04 L455.25,474.04 L456.25,474.04 L457.25,474.04 L458.25,474.04 L459.25,474.04 L460.25,474.05 L461.25,474.05 L462.25,474.05 L463.25,474.05 L464.25,474.05 L465.25,474.05 L466.25,474.06 L467.25,474.06 L468.25,474.06 L469.25,474.06 L470.25,474.06 L471.25,474.06 L472.25,474.07 L473.25,474.07 L474.25,474.07 L475.25,474.07 L476.25,474.07 L477.25,474.07 L478.25,474.08 L479.25,474.08 L480.25,474.08 L481.25,474.08 L482.25,474.08 L483.25,474.09 L484.25,474.09 L485.25,474.09 L486.25,474.09 L487.25,474.09 L488.25,474.10 L489.25,474.10 L490.25,474.10 L491.25,474.10 L492.25,474.10 L493.25,474.11 L494.25,474.11 L495.25,474.11 L496.25,474.11 L496.50,474.11 L496.50,478.31 L496.25,478.31 L495.25,478.32 L494.25,478.32 L493.25,478.32 L492.25,478.32 L491.25,478.33 L490.25,478.33 L489.25,478.33 L488.25,478.33 L487.25,478.33 L486.25,478.34 L485.25,478.34 L484.25,478.34 L483.25,478.34 L482.25,478.34 L481.25,478.35 L480.25,478.35 L479.25,478.35 L478.25,478.35 L477.25,478.35 L476.25,478.36 L475.25,478.36 L474.25,478.36 L473.25,478.36 L472.25,478.36 L471.25,478.36 L470.25,478.37 L469.25,478.37 L468.25,478.37 L467.25,478.37 L466.25,478.37 L465.25,478.37 L464.25,478.38 L463.25,478.38 L462.25,478.38 L461.25,478.38 L460.25,478.38 L459.25,478.38 L458.25,478.39 L457.25,478.39 L456.25,478.39 L455.25,478.39 L454.25,478.39 L453.25,478.39 L452.25,478.39 L451.25,478.39 L450.25,478.40 L449.25,478.40 L448.25,478.40 L447.25,478.40 L446.25,478.40 L445.25,478.40 L444.25,478.40 L443.25,478.40 L442.25,478.40 L441.25,478.40 L440.25,478.41 L439.25,478.41 L438.25,478.41 L437.25,478.41 L436.25,478.41 L435.25,478.41 L434.25,478.41 L433.25,478.41 L432.25,478.41 L431.25,478.41 L430.25,478.41 L429.25,478.41 L428.25,478.41 L427.25,478.41 L426.25,478.41 L425.25,478.41 L424.25,478.41 L423.25,478.41 L422.25,478.41 L421.25,478.41 L420.25,478.41 L419.25,478.41 L418.25,478.41 L417.25,478.41 L416.25,478.41 L415.25,478.41 L414.25,478.41 L413.25,478.41 L412.25,478.41 L411.25,478.41 L410.25,478.41 L409.25,478.41 L408.25,478.41 L407.25,478.41 L406.25,478.41 L405.25,478.41 L404.25,478.41 L403.25,478.41 L402.25,478.41 L401.25,478.41 L400.25,478.41 L399.25,478.41 L398.25,478.41 L397.25,478.41 L396.25,478.41 L395.25,478.41 L394.25,478.41 L393.25,478.41 L392.25,478.41 L391.25,478.41 L390.25,478.41 L389.25,478.41 L388.25,478.41 L387.25,478.41 L386.25,478.41 L385.25,478.41 L384.25,478.41 L383.25,478.42 L382.25,478.42 L381.25,478.43 L380.25,478.45 L379.25,478.46 L378.25,478.47 L377.25,478.49 L376.25,478.51 L375.25,478.53 L374.25,478.55 L373.25,478.58 L372.25,478.60 L371.25,478.62 L370.25,478.65 L369.25,478.67 L368.25,478.70 L367.25,478.72 L366.25,478.75 L365.25,478.78 L364.25,478.81 L363.25,478.85 L362.25,478.88 L361.25,478.92 L360.25,478.96 L359.25,479.01 L358.25,479.05 L357.25,479.10 L356.25,479.15 L355.25,479.20 L354.25,479.26 L353.25,479.31 L352.25,479.37 L351.25,479.43 L350.25,479.50 L349.25,479.57 L348.25,479.65 L347.25,479.75 L346.25,479.85 L345.25,479.97 L344.25,480.09 L343.25,480.22 L342.25,480.35 L341.25,480.49 L340.25,480.62 L339.25,480.76 L338.25,480.89 L337.25,481.02 L336.25,481.14 L335.25,481.26 L334.25,481.36 L333.25,481.46 L332.25,481.54 L331.25,481.62 L330.25,481.69 L329.25,481.77 L328.25,481.83 L327.25,481.90 L326.25,481.96 L325.25,482.02 L324.25,482.08 L323.25,482.14 L322.25,482.20 L321.25,482.26 L320.25,482.31 L319.25,482.37 L318.25,482.43 L317.25,482.48 L316.25,482.54 L315.25,482.60 L314.25,482.66 L313.25,482.72 L312.25,482.77 L311.25,482.83 L310.25,482.88 L309.25,482.93 L308.25,482.98 L307.25,483.04 L306.25,483.09 L305.25,483.14 L304.25,483.20 L303.25,483.25 L302.25,483.31 L301.25,483.37 L300.25,483.43 L299.25,483.50 L298.25,483.56 L297.25,483.63 L296.25,483.71 L295.25,483.79 L294.25,483.87 L293.25,483.96 L292.25,484.05 L291.25,484.14 L290.25,484.24 L289.25,484.34 L288.25,484.45 L287.25,484.57 L286.25,484.68 L285.25,484.80 L284.25,484.92 L283.25,485.04 L282.25,485.15 L281.25,485.27 L280.25,485.38 L279.25,485.50 L278.25,485.61 L277.25,485.73 L276.25,485.86 L275.25,485.99 L274.25,486.13 L273.25,486.28 L272.25,486.42 L271.25,486.58 L270.25,486.74 L269.25,486.91 L268.25,487.08 L267.25,487.26 L266.25,487.44 L265.25,487.65 L264.25,487.87 L263.25,488.11 L262.25,488.35 L261.25,488.60 L260.25,488.84 L259.25,489.07 L258.25,489.29 L257.25,489.48 L256.25,489.65 L255.25,489.81 L254.25,489.97 L253.25,490.11 L252.25,490.26 L251.25,490.41 L250.25,490.57 L249.25,490.73 L248.25,490.91 L247.25,491.10 L246.25,491.30 L245.25,491.51 L244.25,491.72 L243.25,491.93 L242.25,492.15 L241.25,492.36 L240.25,492.58 L239.25,492.80 L238.25,493.03 L237.25,493.26 L236.25,493.50 L235.25,493.73 L234.25,493.97 L233.25,494.20 L232.25,494.42 L231.25,494.62 L230.25,494.82 L229.25,495.02 L228.25,495.21 L227.25,495.39 L226.25,495.58 L225.25,495.75 L224.25,495.93 L223.25,496.10 L222.25,496.28 L221.25,496.46 L220.25,496.67 L219.25,496.87 L218.25,497.07 L217.25,497.25 L216.25,497.41 L215.25,497.53 L214.25,497.60 L213.25,497.63 L212.25,497.64 L211.25,497.66 L210.25,497.68 L209.25,497.69 L208.25,497.70 L207.25,497.71 L206.25,497.71 L205.25,497.71 L204.25,497.71 L203.25,497.70 L202.25,497.68 L201.25,497.66 L200.25,497.63 L199.25,497.59 L198.25,497.55 L197.25,497.51 L196.25,497.46 L195.25,497.40 L194.25,497.30 L193.25,497.19 L192.25,497.05 L191.25,496.89 L190.25,496.72 L189.25,496.54 L188.25,496.36 L187.25,496.17 L186.25,495.95 L185.25,495.71 L184.25,495.44 L183.25,495.16 L182.25,494.86 L181.25,494.55 L180.25,494.24 L179.25,493.91 L178.25,493.56 L177.25,493.20 L176.25,492.82 L175.25,492.42 L174.25,492.01 Z" fill="#55609C" fill-opacity="0.70"/>
<path d="M148.25,527.35 L149.25,526.99 L150.25,526.65 L151.25,526.32 L152.25,526.01 L153.25,525.71 L154.25,525.44 L155.25,525.18 L156.25,524.95 L157.25,524.72 L158.25,524.50 L159.25,524.29 L160.25,524.08 L161.25,523.89 L162.25,523.71 L163.25,523.53 L164.25,523.37 L165.25,523.21 L166.25,523.05 L167.25,522.90 L168.25,522.76 L169.25,522.61 L170.25,522.48 L171.25,522.34 L172.25,522.22 L173.25,522.10 L174.25,521.98 L175.25,521.87 L176.25,521.77 L177.25,521.67 L178.25,521.58 L179.25,521.48 L180.25,521.39 L181.25,521.29 L182.25,521.20 L183.25,521.12 L184.25,521.03 L185.25,520.96 L186.25,520.89 L187.25,520.84 L188.25,520.79 L189.25,520.76 L190.25,520.74 L191.25,520.73 L192.25,520.72 L193.25,520.70 L194.25,520.69 L195.25,520.68 L196.25,520.67 L197.25,520.67 L198.25,520.66 L199.25,520.65 L200.25,520.65 L201.25,520.65 L202.25,520.65 L203.25,520.65 L204.25,520.68 L205.25,520.74 L206.25,520.81 L207.25,520.90 L208.25,521.00 L209.25,521.12 L210.25,521.24 L211.25,521.37 L212.25,521.50 L213.25,521.63 L214.25,521.75 L215.25,521.88 L216.25,522.01 L217.25,522.15 L218.25,522.30 L219.25,522.46 L220.25,522.62 L221.25,522.79 L222.25,522.96 L223.25,523.14 L224.25,523.31 L225.25,523.48 L226.25,523.65 L227.25,523.81 L228.25,523.96 L229.25,524.12 L230.25,524.27 L231.25,524.42 L232.25,524.57 L233.25,524.72 L234.25,524.87 L235.25,525.02 L236.25,525.17 L237.25,525.32 L238.25,525.48 L239.25,525.63 L240.25,525.79 L241.25,525.94 L242.25,526.11 L243.25,526.27 L244.25,526.44 L245.25,526.60 L246.25,526.77 L247.25,526.93 L248.25,527.09 L249.25,527.26 L250.25,527.41 L251.25,527.56 L252.25,527.71 L253.25,527.85 L254.25,527.99 L255.25,528.12 L256.25,528.24 L257.25,528.37 L258.25,528.49 L259.25,528.61 L260.25,528.73 L261.25,528.86 L262.25,528.98 L263.25,529.11 L264.25,529.24 L265.25,529.38 L266.25,529.52 L267.25,529.67 L268.25,529.82 L269.25,529.98 L270.25,530.14 L271.25,530.30 L272.25,530.45 L273.25,530.61 L274.25,530.77 L275.25,530.92 L276.25,531.07 L277.25,531.21 L278.25,531.35 L279.25,531.49 L280.25,531.64 L281.25,531.78 L282.25,531.92 L283.25,532.06 L284.25,532.20 L285.25,532.33 L286.25,532.45 L287.25,532.57 L288.25,532.68 L289.25,532.78 L290.25,532.87 L291.25,532.95 L292.25,533.03 L293.25,533.11 L294.25,533.19 L295.25,533.26 L296.25,533.32 L297.25,533.39 L298.25,533.45 L299.25,533.50 L300.25,533.55 L301.25,533.60 L302.25,533.64 L303.25,533.67 L304.25,533.70 L305.25,533.73 L306.25,533.75 L307.25,533.77 L308.25,533.80 L309.25,533.82 L310.25,533.84 L311.25,533.86 L312.25,533.89 L313.25,533.91 L314.25,533.94 L315.25,533.97 L316.25,534.00 L317.25,534.03 L318.25,534.06 L319.25,534.10 L320.25,534.13 L321.25,534.16 L322.25,534.19 L323.25,534.23 L324.25,534.26 L325.25,534.29 L326.25,534.33 L327.25,534.36 L328.25,534.39 L329.25,534.42 L330.25,534.45 L331.25,534.48 L332.25,534.51 L333.25,534.54 L334.25,534.57 L335.25,534.60 L336.25,534.63 L337.25,534.65 L338.25,534.68 L339.25,534.71 L340.25,534.73 L341.25,534.76 L342.25,534.78 L343.25,534.81 L344.25,534.83 L345.25,534.86 L346.25,534.89 L347.25,534.91 L348.25,534.94 L349.25,534.96 L350.25,534.99 L351.25,535.01 L352.25,535.03 L353.25,535.06 L354.25,535.08 L355.25,535.11 L356.25,535.13 L357.25,535.16 L358.25,535.19 L359.25,535.21 L360.25,535.24 L361.25,535.27 L362.25,535.29 L363.25,535.32 L364.25,535.35 L365.25,535.37 L366.25,535.40 L367.25,535.43 L368.25,535.45 L369.25,535.48 L370.25,535.50 L371.25,535.52 L372.25,535.54 L373.25,535.56 L374.25,535.58 L375.25,535.60 L376.25,535.62 L377.25,535.63 L378.25,535.65 L379.25,535.67 L380.25,535.69 L381.25,535.70 L382.25,535.72 L383.25,535.73 L384.25,535.74 L385.25,535.76 L386.25,535.77 L387.25,535.78 L388.25,535.79 L389.25,535.79 L390.25,535.80 L391.25,535.80 L392.25,535.80 L393.25,535.81 L394.25,535.81 L395.25,535.81 L396.25,535.82 L397.25,535.82 L398.25,535.82 L399.25,535.82 L400.25,535.83 L401.25,535.83 L402.25,535.83 L403.25,535.83 L404.25,535.83 L405.25,535.84 L406.25,535.84 L407.25,535.84 L408.25,535.84 L409.25,535.84 L410.25,535.85 L411.25,535.85 L412.25,535.85 L413.25,535.85 L414.25,535.86 L415.25,535.86 L416.25,535.86 L417.25,535.86 L418.25,535.86 L419.25,535.87 L420.25,535.87 L421.25,535.87 L422.25,535.87 L423.25,535.87 L424.25,535.88 L425.25,535.88 L426.25,535.88 L427.25,535.89 L428.25,535.89 L429.25,535.89 L430.25,535.90 L431.25,535.90 L432.25,535.91 L433.25,535.92 L434.25,535.93 L435.25,535.94 L436.25,535.95 L437.25,535.96 L438.25,535.97 L439.25,535.98 L440.25,536.00 L441.25,536.01 L442.25,536.02 L443.25,536.04 L443.75,536.05 L443.75,541.45 L443.25,541.45 L442.25,541.47 L441.25,541.48 L440.25,541.50 L439.25,541.51 L438.25,541.52 L437.25,541.53 L436.25,541.55 L435.25,541.56 L434.25,541.57 L433.25,541.58 L432.25,541.58 L431.25,541.59 L430.25,541.59 L429.25,541.60 L428.25,541.60 L427.25,541.61 L426.25,541.61 L425.25,541.61 L424.25,541.62 L423.25,541.62 L422.25,541.62 L421.25,541.62 L420.25,541.62 L419.25,541.63 L418.25,541.63 L417.25,541.63 L416.25,541.63 L415.25,541.63 L414.25,541.64 L413.25,541.64 L412.25,541.64 L411.25,541.64 L410.25,541.65 L409.25,541.65 L408.25,541.65 L407.25,541.65 L406.25,541.65 L405.25,541.66 L404.25,541.66 L403.25,541.66 L402.25,541.66 L401.25,541.66 L400.25,541.67 L399.25,541.67 L398.25,541.67 L397.25,541.67 L396.25,541.67 L395.25,541.68 L394.25,541.68 L393.25,541.68 L392.25,541.69 L391.25,541.69 L390.25,541.69 L389.25,541.70 L388.25,541.71 L387.25,541.71 L386.25,541.72 L385.25,541.74 L384.25,541.75 L383.25,541.76 L382.25,541.78 L381.25,541.79 L380.25,541.81 L379.25,541.82 L378.25,541.84 L377.25,541.86 L376.25,541.87 L375.25,541.89 L374.25,541.91 L373.25,541.93 L372.25,541.95 L371.25,541.97 L370.25,541.99 L369.25,542.02 L368.25,542.04 L367.25,542.07 L366.25,542.09 L365.25,542.12 L364.25,542.15 L363.25,542.17 L362.25,542.20 L361.25,542.23 L360.25,542.25 L359.25,542.28 L358.25,542.31 L357.25,542.33 L356.25,542.36 L355.25,542.38 L354.25,542.41 L353.25,542.43 L352.25,542.46 L351.25,542.48 L350.25,542.51 L349.25,542.53 L348.25,542.56 L347.25,542.58 L346.25,542.61 L345.25,542.63 L344.25,542.66 L343.25,542.68 L342.25,542.71 L341.25,542.73 L340.25,542.76 L339.25,542.79 L338.25,542.81 L337.25,542.84 L336.25,542.87 L335.25,542.89 L334.25,542.92 L333.25,542.95 L332.25,542.98 L331.25,543.01 L330.25,543.04 L329.25,543.07 L328.25,543.10 L327.25,543.13 L326.25,543.17 L325.25,543.20 L324.25,543.23 L323.25,543.27 L322.25,543.30 L321.25,543.33 L320.25,543.36 L319.25,543.40 L318.25,543.43 L317.25,543.46 L316.25,543.49 L315.25,543.52 L314.25,543.55 L313.25,543.58 L312.25,543.61 L311.25,543.63 L310.25,543.65 L309.25,543.67 L308.25,543.70 L307.25,543.72 L306.25,543.74 L305.25,543.76 L304.25,543.79 L303.25,543.82 L302.25,543.85 L301.25,543.89 L300.25,543.94 L299.25,543.99 L298.25,544.04 L297.25,544.10 L296.25,544.17 L295.25,544.24 L294.25,544.31 L293.25,544.38 L292.25,544.46 L291.25,544.54 L290.25,544.62 L289.25,544.71 L288.25,544.81 L287.25,544.92 L286.25,545.04 L285.25,545.16 L284.25,545.29 L283.25,545.43 L282.25,545.57 L281.25,545.71 L280.25,545.86 L279.25,546.00 L278.25,546.14 L277.25,546.28 L276.25,546.42 L275.25,546.57 L274.25,546.72 L273.25,546.88 L272.25,547.04 L271.25,547.20 L270.25,547.35 L269.25,547.51 L268.25,547.67 L267.25,547.82 L266.25,547.97 L265.25,548.11 L264.25,548.25 L263.25,548.38 L262.25,548.51 L261.25,548.63 L260.25,548.76 L259.25,548.88 L258.25,549.00 L257.25,549.12 L256.25,549.25 L255.25,549.38 L254.25,549.51 L253.25,549.64 L252.25,549.78 L251.25,549.93 L250.25,550.08 L249.25,550.24 L248.25,550.40 L247.25,550.56 L246.25,550.72 L245.25,550.89 L244.25,551.06 L243.25,551.22 L242.25,551.39 L241.25,551.55 L240.25,551.71 L239.25,551.86 L238.25,552.02 L237.25,552.17 L236.25,552.32 L235.25,552.47 L234.25,552.62 L233.25,552.77 L232.25,552.92 L231.25,553.07 L230.25,553.22 L229.25,553.38 L228.25,553.53 L227.25,553.69 L226.25,553.85 L225.25,554.01 L224.25,554.18 L223.25,554.36 L222.25,554.53 L221.25,554.70 L220.25,554.87 L219.25,555.04 L218.25,555.19 L217.25,555.35 L216.25,555.49 L215.25,555.62 L214.25,555.74 L213.25,555.87 L212.25,556.00 L211.25,556.13 L210.25,556.25 L209.25,556.38 L208.25,556.49 L207.25,556.59 L206.25,556.68 L205.25,556.75 L204.25,556.81 L203.25,556.84 L202.25,556.85 L201.25,556.84 L200.25,556.84 L199.25,556.84 L198.25,556.83 L197.25,556.83 L196.25,556.82 L195.25,556.81 L194.25,556.80 L193.25,556.79 L192.25,556.78 L191.25,556.76 L190.25,556.75 L189.25,556.73 L188.25,556.70 L187.25,556.65 L186.25,556.60 L185.25,556.53 L184.25,556.46 L183.25,556.38 L182.25,556.29 L181.25,556.20 L180.25,556.10 L179.25,556.01 L178.25,555.92 L177.25,555.82 L176.25,555.73 L175.25,555.62 L174.25,555.51 L173.25,555.40 L172.25,555.27 L171.25,555.15 L170.25,555.02 L169.25,554.88 L168.25,554.74 L167.25,554.59 L166.25,554.44 L165.25,554.29 L164.25,554.13 L163.25,553.96 L162.25,553.78 L161.25,553.60 L160.25,553.41 L159.25,553.21 L158.25,553.00 L157.25,552.78 L156.25,552.55 L155.25,552.31 L154.25,552.05 L153.25,551.78 L152.25,551.48 L151.25,551.17 L150.25,550.84 L149.25,550.50 L148.25,550.15 Z" fill="#5B4191" fill-opacity="0.70"/>
<path d="M152.00,586.28 L153.00,585.35 L154.00,584.44 L155.00,583.56 L156.00,582.70 L157.00,581.88 L158.00,581.09 L159.00,580.33 L160.00,579.59 L161.00,578.86 L162.00,578.15 L163.00,577.46 L164.00,576.80 L165.00,576.17 L166.00,575.58 L167.00,575.03 L168.00,574.53 L169.00,574.04 L170.00,573.55 L171.00,573.09 L172.00,572.65 L173.00,572.25 L174.00,571.89 L175.00,571.58 L176.00,571.34 L177.00,571.14 L178.00,570.96 L179.00,570.78 L180.00,570.62 L181.00,570.47 L182.00,570.35 L183.00,570.26 L184.00,570.20 L185.00,570.18 L186.00,570.20 L187.00,570.27 L188.00,570.38 L189.00,570.52 L190.00,570.69 L191.00,570.88 L192.00,571.09 L193.00,571.30 L194.00,571.52 L195.00,571.79 L196.00,572.13 L197.00,572.52 L198.00,572.95 L199.00,573.40 L200.00,573.87 L201.00,574.35 L202.00,574.81 L203.00,575.25 L204.00,575.71 L205.00,576.18 L206.00,576.67 L207.00,577.15 L208.00,577.64 L209.00,578.12 L210.00,578.59 L211.00,579.05 L212.00,579.48 L213.00,579.91 L214.00,580.34 L215.00,580.76 L216.00,581.17 L217.00,581.58 L218.00,581.97 L219.00,582.36 L220.00,582.74 L221.00,583.11 L222.00,583.46 L223.00,583.79 L224.00,584.12 L225.00,584.45 L226.00,584.79 L227.00,585.13 L228.00,585.48 L229.00,585.85 L230.00,586.24 L231.00,586.65 L232.00,587.07 L233.00,587.49 L234.00,587.92 L235.00,588.36 L236.00,588.79 L237.00,589.22 L238.00,589.65 L239.00,590.09 L240.00,590.54 L241.00,591.00 L242.00,591.45 L243.00,591.90 L244.00,592.33 L245.00,592.74 L246.00,593.13 L247.00,593.50 L248.00,593.86 L249.00,594.23 L250.00,594.58 L251.00,594.92 L252.00,595.24 L253.00,595.52 L254.00,595.76 L255.00,595.96 L256.00,596.13 L257.00,596.29 L258.00,596.45 L259.00,596.60 L260.00,596.73 L261.00,596.84 L262.00,596.92 L263.00,596.97 L264.00,596.98 L265.00,596.97 L266.00,596.96 L267.00,596.93 L268.00,596.90 L269.00,596.87 L270.00,596.83 L271.00,596.78 L272.00,596.72 L273.00,596.61 L274.00,596.48 L275.00,596.33 L276.00,596.18 L277.00,596.04 L278.00,595.92 L279.00,595.82 L280.00,595.73 L281.00,595.65 L282.00,595.56 L283.00,595.49 L284.00,595.43 L285.00,595.39 L286.00,595.37 L287.00,595.36 L288.00,595.35 L289.00,595.34 L290.00,595.34 L291.00,595.33 L292.00,595.33 L293.00,595.33 L294.00,595.33 L295.00,595.35 L296.00,595.38 L297.00,595.42 L298.00,595.46 L299.00,595.51 L300.00,595.56 L301.00,595.62 L302.00,595.69 L303.00,595.77 L304.00,595.87 L305.00,595.98 L306.00,596.09 L307.00,596.21 L308.00,596.33 L309.00,596.46 L310.00,596.60 L311.00,596.75 L312.00,596.90 L313.00,597.07 L314.00,597.23 L315.00,597.39 L316.00,597.57 L317.00,597.76 L318.00,597.94 L319.00,598.12 L320.00,598.28 L321.00,598.41 L322.00,598.53 L323.00,598.65 L324.00,598.76 L325.00,598.88 L326.00,599.00 L327.00,599.13 L328.00,599.25 L329.00,599.37 L330.00,599.48 L331.00,599.58 L332.00,599.69 L333.00,599.80 L334.00,599.90 L335.00,600.00 L336.00,600.09 L337.00,600.17 L338.00,600.23 L339.00,600.26 L340.00,600.28 L341.00,600.28 L342.00,600.28 L343.00,600.27 L344.00,600.27 L345.00,600.26 L346.00,600.25 L347.00,600.24 L348.00,600.23 L349.00,600.22 L350.00,600.21 L351.00,600.20 L352.00,600.19 L353.00,600.17 L354.00,600.14 L355.00,600.09 L356.00,600.02 L357.00,599.95 L358.00,599.86 L359.00,599.77 L360.00,599.67 L361.00,599.57 L362.00,599.47 L363.00,599.37 L364.00,599.27 L365.00,599.18 L366.00,599.08 L367.00,598.96 L368.00,598.84 L369.00,598.72 L370.00,598.61 L371.00,598.53 L372.00,598.48 L373.00,598.48 L374.00,598.48 L375.00,598.48 L376.00,598.48 L377.00,598.48 L378.00,598.48 L379.00,598.48 L380.00,598.48 L381.00,598.48 L382.00,598.48 L383.00,598.48 L384.00,598.48 L385.00,598.48 L386.00,598.48 L387.00,598.48 L388.00,598.48 L389.00,598.48 L390.00,598.48 L391.00,598.48 L392.00,598.48 L392.50,598.48 L392.50,604.08 L392.00,604.08 L391.00,604.08 L390.00,604.08 L389.00,604.08 L388.00,604.08 L387.00,604.08 L386.00,604.08 L385.00,604.08 L384.00,604.08 L383.00,604.08 L382.00,604.08 L381.00,604.08 L380.00,604.08 L379.00,604.08 L378.00,604.08 L377.00,604.08 L376.00,604.08 L375.00,604.08 L374.00,604.08 L373.00,604.08 L372.00,604.07 L371.00,604.03 L370.00,603.94 L369.00,603.84 L368.00,603.72 L367.00,603.59 L366.00,603.48 L365.00,603.38 L364.00,603.29 L363.00,603.19 L362.00,603.09 L361.00,602.99 L360.00,602.89 L359.00,602.79 L358.00,602.70 L357.00,602.61 L356.00,602.53 L355.00,602.47 L354.00,602.42 L353.00,602.39 L352.00,602.37 L351.00,602.36 L350.00,602.34 L349.00,602.33 L348.00,602.32 L347.00,602.31 L346.00,602.30 L345.00,602.30 L344.00,602.29 L343.00,602.28 L342.00,602.28 L341.00,602.28 L340.00,602.28 L339.00,602.29 L338.00,602.33 L337.00,602.39 L336.00,602.47 L335.00,602.56 L334.00,602.66 L333.00,602.76 L332.00,602.87 L331.00,602.98 L330.00,603.08 L329.00,603.18 L328.00,603.30 L327.00,603.43 L326.00,603.55 L325.00,603.68 L324.00,603.79 L323.00,603.91 L322.00,604.02 L321.00,604.14 L320.00,604.28 L319.00,604.43 L318.00,604.61 L317.00,604.80 L316.00,604.99 L315.00,605.16 L314.00,605.33 L313.00,605.49 L312.00,605.65 L311.00,605.81 L310.00,605.96 L309.00,606.10 L308.00,606.23 L307.00,606.35 L306.00,606.46 L305.00,606.58 L304.00,606.68 L303.00,606.78 L302.00,606.87 L301.00,606.94 L300.00,606.99 L299.00,607.04 L298.00,607.09 L297.00,607.14 L296.00,607.17 L295.00,607.20 L294.00,607.22 L293.00,607.23 L292.00,607.23 L291.00,607.22 L290.00,607.22 L289.00,607.21 L288.00,607.20 L287.00,607.19 L286.00,607.18 L285.00,607.16 L284.00,607.12 L283.00,607.07 L282.00,606.99 L281.00,606.91 L280.00,606.82 L279.00,606.73 L278.00,606.64 L277.00,606.52 L276.00,606.38 L275.00,606.23 L274.00,606.08 L273.00,605.94 L272.00,605.84 L271.00,605.77 L270.00,605.73 L269.00,605.69 L268.00,605.65 L267.00,605.62 L266.00,605.60 L265.00,605.59 L264.00,605.58 L263.00,605.59 L262.00,605.64 L261.00,605.72 L260.00,605.83 L259.00,605.96 L258.00,606.10 L257.00,606.26 L256.00,606.43 L255.00,606.60 L254.00,606.79 L253.00,607.04 L252.00,607.32 L251.00,607.64 L250.00,607.97 L249.00,608.33 L248.00,608.69 L247.00,609.06 L246.00,609.43 L245.00,609.81 L244.00,610.23 L243.00,610.66 L242.00,611.11 L241.00,611.56 L240.00,612.02 L239.00,612.47 L238.00,612.91 L237.00,613.33 L236.00,613.77 L235.00,614.20 L234.00,614.63 L233.00,615.07 L232.00,615.49 L231.00,615.91 L230.00,616.31 L229.00,616.70 L228.00,617.07 L227.00,617.43 L226.00,617.77 L225.00,618.10 L224.00,618.43 L223.00,618.76 L222.00,619.10 L221.00,619.45 L220.00,619.82 L219.00,620.20 L218.00,620.58 L217.00,620.98 L216.00,621.38 L215.00,621.80 L214.00,622.22 L213.00,622.64 L212.00,623.07 L211.00,623.51 L210.00,623.96 L209.00,624.44 L208.00,624.92 L207.00,625.40 L206.00,625.89 L205.00,626.37 L204.00,626.84 L203.00,627.30 L202.00,627.75 L201.00,628.21 L200.00,628.68 L199.00,629.15 L198.00,629.61 L197.00,630.04 L196.00,630.43 L195.00,630.76 L194.00,631.03 L193.00,631.25 L192.00,631.47 L191.00,631.67 L190.00,631.86 L189.00,632.03 L188.00,632.17 L187.00,632.28 L186.00,632.35 L185.00,632.38 L184.00,632.36 L183.00,632.30 L182.00,632.21 L181.00,632.08 L180.00,631.94 L179.00,631.78 L178.00,631.60 L177.00,631.41 L176.00,631.22 L175.00,630.97 L174.00,630.67 L173.00,630.31 L172.00,629.90 L171.00,629.47 L170.00,629.00 L169.00,628.52 L168.00,628.03 L167.00,627.52 L166.00,626.98 L165.00,626.39 L164.00,625.76 L163.00,625.10 L162.00,624.41 L161.00,623.70 L160.00,622.97 L159.00,622.23 L158.00,621.47 L157.00,620.68 L156.00,619.85 L155.00,619.00 L154.00,618.12 L153.00,617.21 L152.00,616.28 Z" fill="#5B2474" fill-opacity="0.70"/>
<line x1="180.20" y1="38.49" x2="496.80" y2="38.49" class="wh"/>
<rect x="256.40" y="32.29" width="97.40" height="12.40" fill="#EAF044" class="bx"/>
<line x1="291.20" y1="32.29" x2="291.20" y2="44.69" class="md"/>
<circle cx="554.20" cy="38.49" r="3.2" fill="#000"/>
<line x1="174.50" y1="101.12" x2="388.75" y2="101.12" class="wh"/>
<rect x="196.50" y="94.92" width="79.00" height="12.40" fill="#B8EE48" class="bx"/>
<line x1="232.50" y1="94.92" x2="232.50" y2="107.32" class="md"/>
<circle cx="417.50" cy="101.12" r="3.2" fill="#000"/>
<circle cx="425.25" cy="101.12" r="3.2" fill="#000"/>
<circle cx="459.50" cy="101.12" r="3.2" fill="#000"/>
<circle cx="486.25" cy="101.12" r="3.2" fill="#000"/>
<circle cx="532.80" cy="101.12" r="3.2" fill="#000"/>
<circle cx="534.50" cy="101.12" r="3.2" fill="#000"/>
<line x1="189.25" y1="163.30" x2="357.50" y2="163.30" class="wh"/>
<rect x="248.75" y="157.10" width="65.75" height="12.40" fill="#7EE364" class="bx"/>
<line x1="308.50" y1="157.10" x2="308.50" y2="169.50" class="md"/>
<circle cx="658.25" cy="163.30" r="3.2" fill="#000"/>
<line x1="179.25" y1="225.79" x2="428.00" y2="225.79" class="wh"/>
<rect x="215.00" y="219.59" width="87.75" height="12.40" fill="#60CB86" class="bx"/>
<line x1="242.00" y1="219.59" x2="242.00" y2="231.99" class="md"/>
<circle cx="443.75" cy="225.79" r="3.2" fill="#000"/>
<circle cx="447.00" cy="225.79" r="3.2" fill="#000"/>
<circle cx="450.50" cy="225.79" r="3.2" fill="#000"/>
<circle cx="476.25" cy="225.79" r="3.2" fill="#000"/>
<circle cx="487.50" cy="225.79" r="3.2" fill="#000"/>
<circle cx="590.50" cy="225.79" r="3.2" fill="#000"/>
<circle cx="610.00" cy="225.79" r="3.2" fill="#000"/>
<line x1="259.25" y1="288.62" x2="466.50" y2="288.62" class="wh"/>
<rect x="268.25" y="282.42" width="129.45" height="12.40" fill="#52AE90" class="bx"/>
<line x1="304.75" y1="282.42" x2="304.75" y2="294.82" class="md"/>
<line x1="188.25" y1="351.15" x2="405.50" y2="351.15" class="wh"/>
<rect x="209.75" y="344.95" width="79.50" height="12.40" fill="#4A9694" class="bx"/>
<line x1="237.75" y1="344.95" x2="237.75" y2="357.35" class="md"/>
<circle cx="440.50" cy="351.15" r="3.2" fill="#000"/>
<circle cx="467.50" cy="351.15" r="3.2" fill="#000"/>
<circle cx="470.50" cy="351.15" r="3.2" fill="#000"/>
<circle cx="544.75" cy="351.15" r="3.2" fill="#000"/>
<line x1="175.00" y1="413.68" x2="482.50" y2="413.68" class="wh"/>
<rect x="269.00" y="407.48" width="100.50" height="12.40" fill="#487898" class="bx"/>
<line x1="321.75" y1="407.48" x2="321.75" y2="419.88" class="md"/>
<line x1="174.25" y1="476.21" x2="413.25" y2="476.21" class="wh"/>
<rect x="196.50" y="470.01" width="92.25" height="12.40" fill="#4A5496" class="bx"/>
<line x1="229.50" y1="470.01" x2="229.50" y2="482.41" class="md"/>
<circle cx="429.00" cy="476.21" r="3.2" fill="#000"/>
<circle cx="451.25" cy="476.21" r="3.2" fill="#000"/>
<circle cx="452.75" cy="476.21" r="3.2" fill="#000"/>
<circle cx="464.25" cy="476.21" r="3.2" fill="#000"/>
<circle cx="482.25" cy="476.21" r="3.2" fill="#000"/>
<circle cx="491.75" cy="476.21" r="3.2" fill="#000"/>
<circle cx="496.50" cy="476.21" r="3.2" fill="#000"/>
<line x1="148.25" y1="538.75" x2="428.75" y2="538.75" class="wh"/>
<rect x="173.00" y="532.55" width="106.00" height="12.40" fill="#4E2B86" class="bx"/>
<line x1="215.00" y1="532.55" x2="215.00" y2="544.95" class="md"/>
<circle cx="438.50" cy="538.75" r="3.2" fill="#000"/>
<circle cx="443.00" cy="538.75" r="3.2" fill="#000"/>
<line x1="152.00" y1="601.28" x2="299.30" y2="601.28" class="wh"/>
<rect x="176.25" y="595.08" width="54.75" height="12.40" fill="#4B0F63" class="bx"/>
<line x1="194.30" y1="595.08" x2="194.30" y2="607.48" class="md"/>
<circle cx="315.00" cy="601.28" r="3.2" fill="#000"/>
<circle cx="317.20" cy="601.28" r="3.2" fill="#000"/>
<circle cx="372.50" cy="601.28" r="3.2" fill="#000"/>
<circle cx="376.00" cy="601.28" r="3.2" fill="#000"/>
<circle cx="390.80" cy="601.28" r="3.2" fill="#000"/>
<text x="114.50" y="44.99" class="yl" style="letter-spacing:0.1px">Fail 24h</text>
<text x="114.40" y="107.62" class="yl">Success 24h</text>
<text x="114.50" y="169.80" class="yl" style="letter-spacing:0.1px">Fail 12h</text>
<text x="114.40" y="232.29" class="yl">Success 12h</text>
<text x="114.50" y="295.12" class="yl" style="letter-spacing:0.1px">Fail 6h</text>
<text x="114.40" y="357.65" class="yl">Success 6h</text>
<text x="114.50" y="420.18" class="yl" style="letter-spacing:0.1px">Fail 3h</text>
<text x="114.40" y="482.71" class="yl">Success 3h</text>
<text x="114.50" y="545.25" class="yl" style="letter-spacing:0.1px">Fail 1h</text>
<text x="114.40" y="607.78" class="yl">Success 1h</text>
<text x="210.99" y="659.2" class="xl">1.6</text>
<text x="298.43" y="659.2" class="xl">1.8</text>
<text x="385.87" y="659.2" class="xl">2.0</text>
<text x="473.32" y="659.2" class="xl">2.2</text>
<text x="560.76" y="659.2" class="xl">2.4</text>
<text x="648.20" y="659.2" class="xl">2.6</text>
<text x="403.5" y="679.8" class="xt">Ratio(Maximum/Second Maximum)</text>
<text transform="translate(14.2,320.3) rotate(-90)" class="yt">Success and Fail Rates</text>
</svg></body></html>
